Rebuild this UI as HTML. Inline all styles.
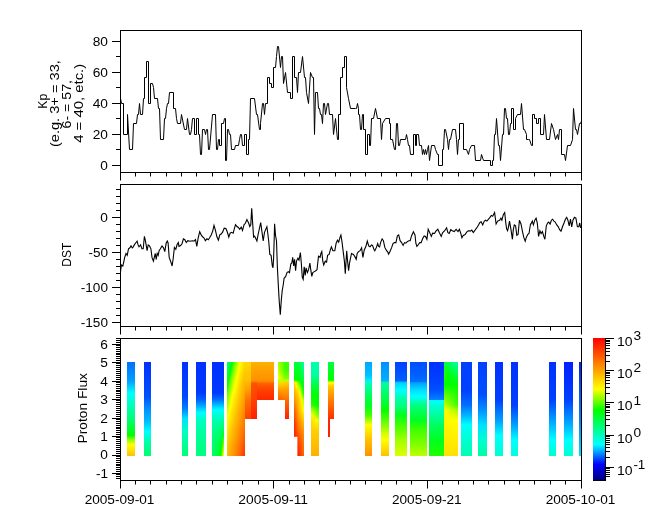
<!DOCTYPE html>
<html><head><meta charset="utf-8"><style>
html,body{margin:0;padding:0;background:#fff;}
svg{display:block;will-change:transform;}
text{font-family:"Liberation Sans",sans-serif;fill:#000;}
</style></head><body>
<svg width="665" height="523" viewBox="0 0 665 523"><defs><linearGradient id="g1" gradientUnits="userSpaceOnUse" x1="0" y1="362" x2="0" y2="456"><stop offset="0" stop-color="#0070ff"/><stop offset="0.2" stop-color="#00a0ff"/><stop offset="0.33" stop-color="#00ffff"/><stop offset="0.48" stop-color="#00ffb0"/><stop offset="0.62" stop-color="#00ff70"/><stop offset="0.78" stop-color="#00ff00"/><stop offset="0.82" stop-color="#80ff00"/><stop offset="0.88" stop-color="#ffff00"/><stop offset="0.94" stop-color="#ffe000"/><stop offset="1" stop-color="#ffc000"/></linearGradient><linearGradient id="g2" gradientUnits="userSpaceOnUse" x1="0" y1="362" x2="0" y2="456"><stop offset="0" stop-color="#0030ff"/><stop offset="0.37" stop-color="#0050ff"/><stop offset="0.5" stop-color="#0090ff"/><stop offset="0.64" stop-color="#00c0ff"/><stop offset="0.74" stop-color="#00ffff"/><stop offset="0.82" stop-color="#00ffc0"/><stop offset="0.9" stop-color="#00ff90"/><stop offset="1" stop-color="#00ff70"/></linearGradient><linearGradient id="g3" gradientUnits="userSpaceOnUse" x1="0" y1="362" x2="0" y2="456"><stop offset="0" stop-color="#0030ff"/><stop offset="0.37" stop-color="#0048ff"/><stop offset="0.5" stop-color="#0080ff"/><stop offset="0.6" stop-color="#00e0ff"/><stop offset="0.74" stop-color="#00ffc0"/><stop offset="1" stop-color="#00ff70"/></linearGradient><linearGradient id="g4" gradientUnits="userSpaceOnUse" x1="0" y1="362" x2="0" y2="456"><stop offset="0" stop-color="#0030ff"/><stop offset="0.33" stop-color="#0038ff"/><stop offset="0.4" stop-color="#0060ff"/><stop offset="0.46" stop-color="#00a0ff"/><stop offset="0.54" stop-color="#00ffff"/><stop offset="0.62" stop-color="#00ffc0"/><stop offset="0.83" stop-color="#00ff90"/><stop offset="1" stop-color="#00ff80"/></linearGradient><linearGradient id="g5" gradientUnits="userSpaceOnUse" x1="0" y1="362" x2="0" y2="456"><stop offset="0" stop-color="#0030ff"/><stop offset="0.33" stop-color="#0038ff"/><stop offset="0.4" stop-color="#0070ff"/><stop offset="0.46" stop-color="#00c0ff"/><stop offset="0.51" stop-color="#00ffff"/><stop offset="0.62" stop-color="#00ffb0"/><stop offset="0.74" stop-color="#00ff8a"/><stop offset="0.78" stop-color="#00ff80"/><stop offset="0.88" stop-color="#00ff71"/><stop offset="1" stop-color="#00ff60"/></linearGradient><linearGradient id="g6" gradientUnits="userSpaceOnUse" x1="0" y1="362" x2="0" y2="456"><stop offset="0" stop-color="#0030ff"/><stop offset="0.33" stop-color="#0038ff"/><stop offset="0.4" stop-color="#0070ff"/><stop offset="0.46" stop-color="#00c0ff"/><stop offset="0.51" stop-color="#00ffff"/><stop offset="0.62" stop-color="#00ffb0"/><stop offset="0.74" stop-color="#00ff88"/><stop offset="0.78" stop-color="#00ff7e"/><stop offset="0.88" stop-color="#00ff6d"/><stop offset="1" stop-color="#00ff5b"/></linearGradient><linearGradient id="g7" gradientUnits="userSpaceOnUse" x1="0" y1="362" x2="0" y2="456"><stop offset="0" stop-color="#0030ff"/><stop offset="0.33" stop-color="#0038ff"/><stop offset="0.4" stop-color="#0070ff"/><stop offset="0.46" stop-color="#00c0ff"/><stop offset="0.51" stop-color="#00ffff"/><stop offset="0.62" stop-color="#00ffb0"/><stop offset="0.74" stop-color="#00ff84"/><stop offset="0.78" stop-color="#00ff79"/><stop offset="0.88" stop-color="#00ff67"/><stop offset="1" stop-color="#00ff52"/></linearGradient><linearGradient id="g8" gradientUnits="userSpaceOnUse" x1="0" y1="362" x2="0" y2="456"><stop offset="0" stop-color="#0030ff"/><stop offset="0.33" stop-color="#0038ff"/><stop offset="0.4" stop-color="#0070ff"/><stop offset="0.46" stop-color="#00c0ff"/><stop offset="0.51" stop-color="#00ffff"/><stop offset="0.62" stop-color="#00ffb0"/><stop offset="0.74" stop-color="#00ff80"/><stop offset="0.78" stop-color="#00ff75"/><stop offset="0.88" stop-color="#00ff60"/><stop offset="1" stop-color="#00ff49"/></linearGradient><linearGradient id="g9" gradientUnits="userSpaceOnUse" x1="0" y1="362" x2="0" y2="456"><stop offset="0" stop-color="#0030ff"/><stop offset="0.33" stop-color="#0038ff"/><stop offset="0.4" stop-color="#0070ff"/><stop offset="0.46" stop-color="#00c0ff"/><stop offset="0.51" stop-color="#00ffff"/><stop offset="0.62" stop-color="#00ffb0"/><stop offset="0.74" stop-color="#00ff7d"/><stop offset="0.78" stop-color="#00ff70"/><stop offset="0.88" stop-color="#00ff59"/><stop offset="1" stop-color="#00ff40"/></linearGradient><linearGradient id="g10" gradientUnits="userSpaceOnUse" x1="0" y1="362" x2="0" y2="456"><stop offset="0" stop-color="#0030ff"/><stop offset="0.33" stop-color="#0038ff"/><stop offset="0.4" stop-color="#0070ff"/><stop offset="0.46" stop-color="#00c0ff"/><stop offset="0.51" stop-color="#00ffff"/><stop offset="0.62" stop-color="#00ffb0"/><stop offset="0.74" stop-color="#00ff79"/><stop offset="0.78" stop-color="#00ff6b"/><stop offset="0.88" stop-color="#00ff52"/><stop offset="1" stop-color="#00ff37"/></linearGradient><linearGradient id="g11" gradientUnits="userSpaceOnUse" x1="0" y1="362" x2="0" y2="456"><stop offset="0" stop-color="#0030ff"/><stop offset="0.33" stop-color="#0038ff"/><stop offset="0.4" stop-color="#0070ff"/><stop offset="0.46" stop-color="#00c0ff"/><stop offset="0.51" stop-color="#00ffff"/><stop offset="0.62" stop-color="#00ffb0"/><stop offset="0.74" stop-color="#00ff76"/><stop offset="0.78" stop-color="#00ff67"/><stop offset="0.88" stop-color="#00ff4c"/><stop offset="1" stop-color="#00ff2e"/></linearGradient><linearGradient id="g12" gradientUnits="userSpaceOnUse" x1="0" y1="362" x2="0" y2="456"><stop offset="0" stop-color="#0030ff"/><stop offset="0.33" stop-color="#0038ff"/><stop offset="0.4" stop-color="#0070ff"/><stop offset="0.46" stop-color="#00c0ff"/><stop offset="0.51" stop-color="#00ffff"/><stop offset="0.62" stop-color="#00ffb0"/><stop offset="0.74" stop-color="#00ff72"/><stop offset="0.78" stop-color="#00ff62"/><stop offset="0.88" stop-color="#00ff45"/><stop offset="1" stop-color="#00ff25"/></linearGradient><linearGradient id="g13" gradientUnits="userSpaceOnUse" x1="0" y1="362" x2="0" y2="456"><stop offset="0" stop-color="#0030ff"/><stop offset="0.33" stop-color="#0038ff"/><stop offset="0.4" stop-color="#0070ff"/><stop offset="0.46" stop-color="#00c0ff"/><stop offset="0.51" stop-color="#00ffff"/><stop offset="0.62" stop-color="#00ffae"/><stop offset="0.74" stop-color="#00ff69"/><stop offset="0.78" stop-color="#00ff57"/><stop offset="0.88" stop-color="#00ff2d"/><stop offset="1" stop-color="#00ff05"/></linearGradient><linearGradient id="g14" gradientUnits="userSpaceOnUse" x1="0" y1="362" x2="0" y2="456"><stop offset="0" stop-color="#0030ff"/><stop offset="0.33" stop-color="#0038ff"/><stop offset="0.4" stop-color="#0070ff"/><stop offset="0.46" stop-color="#00c0ff"/><stop offset="0.51" stop-color="#00ffff"/><stop offset="0.62" stop-color="#00ffa9"/><stop offset="0.74" stop-color="#00ff5b"/><stop offset="0.78" stop-color="#00ff44"/><stop offset="0.88" stop-color="#00ff04"/><stop offset="1" stop-color="#4fff00"/></linearGradient><linearGradient id="g15" gradientUnits="userSpaceOnUse" x1="0" y1="362" x2="0" y2="456"><stop offset="0" stop-color="#0030ff"/><stop offset="0.33" stop-color="#0038ff"/><stop offset="0.4" stop-color="#0070ff"/><stop offset="0.46" stop-color="#00c0ff"/><stop offset="0.51" stop-color="#00ffff"/><stop offset="0.62" stop-color="#00ffa5"/><stop offset="0.74" stop-color="#00ff4e"/><stop offset="0.78" stop-color="#00ff32"/><stop offset="0.88" stop-color="#3dff00"/><stop offset="1" stop-color="#a7ff00"/></linearGradient><linearGradient id="g16" gradientUnits="userSpaceOnUse" x1="0" y1="362" x2="0" y2="456"><stop offset="0" stop-color="#0030ff"/><stop offset="0.33" stop-color="#0038ff"/><stop offset="0.4" stop-color="#0070ff"/><stop offset="0.46" stop-color="#00c0ff"/><stop offset="0.51" stop-color="#00ffff"/><stop offset="0.62" stop-color="#00ffa0"/><stop offset="0.74" stop-color="#00ff40"/><stop offset="0.78" stop-color="#00ff1f"/><stop offset="0.88" stop-color="#80ff00"/><stop offset="1" stop-color="#ffff00"/></linearGradient><linearGradient id="g17" gradientUnits="userSpaceOnUse" x1="0" y1="362" x2="0" y2="456"><stop offset="0" stop-color="#00ff7c"/><stop offset="0.02" stop-color="#00ff71"/><stop offset="0.04" stop-color="#00ff66"/><stop offset="0.06" stop-color="#00ff5b"/><stop offset="0.09" stop-color="#00ff51"/><stop offset="0.11" stop-color="#00ff46"/><stop offset="0.13" stop-color="#00ff3b"/><stop offset="0.15" stop-color="#00ff30"/><stop offset="0.17" stop-color="#00ff25"/><stop offset="0.19" stop-color="#00ff19"/><stop offset="0.21" stop-color="#00ff0d"/><stop offset="0.23" stop-color="#00ff01"/><stop offset="0.26" stop-color="#12ff00"/><stop offset="0.28" stop-color="#26ff00"/><stop offset="0.3" stop-color="#3aff00"/><stop offset="0.32" stop-color="#4dff00"/><stop offset="0.34" stop-color="#61ff00"/><stop offset="0.36" stop-color="#70ff00"/><stop offset="0.38" stop-color="#7eff00"/><stop offset="0.4" stop-color="#8bff00"/><stop offset="0.43" stop-color="#99ff00"/><stop offset="0.45" stop-color="#a7ff00"/><stop offset="0.47" stop-color="#b5ff00"/><stop offset="0.49" stop-color="#c3ff00"/><stop offset="0.51" stop-color="#d0ff00"/><stop offset="0.53" stop-color="#deff00"/><stop offset="0.55" stop-color="#e8ff00"/><stop offset="0.57" stop-color="#f2ff00"/><stop offset="0.6" stop-color="#fcff00"/><stop offset="0.62" stop-color="#fffc00"/><stop offset="0.64" stop-color="#fff800"/><stop offset="0.66" stop-color="#fff400"/><stop offset="0.68" stop-color="#fff000"/><stop offset="0.7" stop-color="#ffec00"/><stop offset="0.72" stop-color="#ffe900"/><stop offset="0.74" stop-color="#ffe500"/><stop offset="0.77" stop-color="#ffe100"/><stop offset="0.79" stop-color="#ffdd00"/><stop offset="0.81" stop-color="#ffd900"/><stop offset="0.83" stop-color="#ffd500"/><stop offset="0.85" stop-color="#ffd100"/><stop offset="0.87" stop-color="#ffcd00"/><stop offset="0.89" stop-color="#ffc900"/><stop offset="0.91" stop-color="#ffc500"/><stop offset="0.94" stop-color="#ffc200"/><stop offset="0.96" stop-color="#ffbf00"/><stop offset="0.98" stop-color="#ffbc00"/><stop offset="1" stop-color="#ffb800"/></linearGradient><linearGradient id="g18" gradientUnits="userSpaceOnUse" x1="0" y1="362" x2="0" y2="456"><stop offset="0" stop-color="#00ff64"/><stop offset="0.02" stop-color="#00ff59"/><stop offset="0.04" stop-color="#00ff4f"/><stop offset="0.06" stop-color="#00ff44"/><stop offset="0.09" stop-color="#00ff39"/><stop offset="0.11" stop-color="#00ff2e"/><stop offset="0.13" stop-color="#00ff23"/><stop offset="0.15" stop-color="#00ff17"/><stop offset="0.17" stop-color="#00ff0b"/><stop offset="0.19" stop-color="#02ff00"/><stop offset="0.21" stop-color="#16ff00"/><stop offset="0.23" stop-color="#29ff00"/><stop offset="0.26" stop-color="#3dff00"/><stop offset="0.28" stop-color="#51ff00"/><stop offset="0.3" stop-color="#64ff00"/><stop offset="0.32" stop-color="#72ff00"/><stop offset="0.34" stop-color="#80ff00"/><stop offset="0.36" stop-color="#8eff00"/><stop offset="0.38" stop-color="#9cff00"/><stop offset="0.4" stop-color="#a9ff00"/><stop offset="0.43" stop-color="#b7ff00"/><stop offset="0.45" stop-color="#c5ff00"/><stop offset="0.47" stop-color="#d3ff00"/><stop offset="0.49" stop-color="#e0ff00"/><stop offset="0.51" stop-color="#eaff00"/><stop offset="0.53" stop-color="#f4ff00"/><stop offset="0.55" stop-color="#feff00"/><stop offset="0.57" stop-color="#fffc00"/><stop offset="0.6" stop-color="#fff800"/><stop offset="0.62" stop-color="#fff400"/><stop offset="0.64" stop-color="#fff000"/><stop offset="0.66" stop-color="#ffec00"/><stop offset="0.68" stop-color="#ffe800"/><stop offset="0.7" stop-color="#ffe400"/><stop offset="0.72" stop-color="#ffe000"/><stop offset="0.74" stop-color="#ffdc00"/><stop offset="0.77" stop-color="#ffd800"/><stop offset="0.79" stop-color="#ffd400"/><stop offset="0.81" stop-color="#ffd000"/><stop offset="0.83" stop-color="#ffcc00"/><stop offset="0.85" stop-color="#ffc800"/><stop offset="0.87" stop-color="#ffc500"/><stop offset="0.89" stop-color="#ffc100"/><stop offset="0.91" stop-color="#ffbe00"/><stop offset="0.94" stop-color="#ffbb00"/><stop offset="0.96" stop-color="#ffb800"/><stop offset="0.98" stop-color="#ffb500"/><stop offset="1" stop-color="#ffb200"/></linearGradient><linearGradient id="g19" gradientUnits="userSpaceOnUse" x1="0" y1="362" x2="0" y2="456"><stop offset="0" stop-color="#00ff4d"/><stop offset="0.02" stop-color="#00ff42"/><stop offset="0.04" stop-color="#00ff37"/><stop offset="0.06" stop-color="#00ff2c"/><stop offset="0.09" stop-color="#00ff20"/><stop offset="0.11" stop-color="#00ff15"/><stop offset="0.13" stop-color="#00ff09"/><stop offset="0.15" stop-color="#06ff00"/><stop offset="0.17" stop-color="#19ff00"/><stop offset="0.19" stop-color="#2dff00"/><stop offset="0.21" stop-color="#41ff00"/><stop offset="0.23" stop-color="#54ff00"/><stop offset="0.26" stop-color="#67ff00"/><stop offset="0.28" stop-color="#75ff00"/><stop offset="0.3" stop-color="#82ff00"/><stop offset="0.32" stop-color="#90ff00"/><stop offset="0.34" stop-color="#9eff00"/><stop offset="0.36" stop-color="#acff00"/><stop offset="0.38" stop-color="#baff00"/><stop offset="0.4" stop-color="#c7ff00"/><stop offset="0.43" stop-color="#d5ff00"/><stop offset="0.45" stop-color="#e2ff00"/><stop offset="0.47" stop-color="#ecff00"/><stop offset="0.49" stop-color="#f6ff00"/><stop offset="0.51" stop-color="#ffff00"/><stop offset="0.53" stop-color="#fffb00"/><stop offset="0.55" stop-color="#fff700"/><stop offset="0.57" stop-color="#fff300"/><stop offset="0.6" stop-color="#ffef00"/><stop offset="0.62" stop-color="#ffeb00"/><stop offset="0.64" stop-color="#ffe700"/><stop offset="0.66" stop-color="#ffe300"/><stop offset="0.68" stop-color="#ffdf00"/><stop offset="0.7" stop-color="#ffdb00"/><stop offset="0.72" stop-color="#ffd700"/><stop offset="0.74" stop-color="#ffd300"/><stop offset="0.77" stop-color="#ffcf00"/><stop offset="0.79" stop-color="#ffcc00"/><stop offset="0.81" stop-color="#ffc800"/><stop offset="0.83" stop-color="#ffc400"/><stop offset="0.85" stop-color="#ffc100"/><stop offset="0.87" stop-color="#ffbe00"/><stop offset="0.89" stop-color="#ffba00"/><stop offset="0.91" stop-color="#ffb700"/><stop offset="0.94" stop-color="#ffb400"/><stop offset="0.96" stop-color="#ffb100"/><stop offset="0.98" stop-color="#ffae00"/><stop offset="1" stop-color="#ffab00"/></linearGradient><linearGradient id="g20" gradientUnits="userSpaceOnUse" x1="0" y1="362" x2="0" y2="456"><stop offset="0" stop-color="#00ff35"/><stop offset="0.02" stop-color="#00ff2a"/><stop offset="0.04" stop-color="#00ff1e"/><stop offset="0.06" stop-color="#00ff12"/><stop offset="0.09" stop-color="#00ff06"/><stop offset="0.11" stop-color="#09ff00"/><stop offset="0.13" stop-color="#1dff00"/><stop offset="0.15" stop-color="#30ff00"/><stop offset="0.17" stop-color="#44ff00"/><stop offset="0.19" stop-color="#58ff00"/><stop offset="0.21" stop-color="#69ff00"/><stop offset="0.23" stop-color="#77ff00"/><stop offset="0.26" stop-color="#85ff00"/><stop offset="0.28" stop-color="#93ff00"/><stop offset="0.3" stop-color="#a0ff00"/><stop offset="0.32" stop-color="#aeff00"/><stop offset="0.34" stop-color="#bcff00"/><stop offset="0.36" stop-color="#caff00"/><stop offset="0.38" stop-color="#d8ff00"/><stop offset="0.4" stop-color="#e4ff00"/><stop offset="0.43" stop-color="#eeff00"/><stop offset="0.45" stop-color="#f7ff00"/><stop offset="0.47" stop-color="#fffe00"/><stop offset="0.49" stop-color="#fffa00"/><stop offset="0.51" stop-color="#fff600"/><stop offset="0.53" stop-color="#fff200"/><stop offset="0.55" stop-color="#ffee00"/><stop offset="0.57" stop-color="#ffea00"/><stop offset="0.6" stop-color="#ffe600"/><stop offset="0.62" stop-color="#ffe200"/><stop offset="0.64" stop-color="#ffdf00"/><stop offset="0.66" stop-color="#ffdb00"/><stop offset="0.68" stop-color="#ffd700"/><stop offset="0.7" stop-color="#ffd300"/><stop offset="0.72" stop-color="#ffcf00"/><stop offset="0.74" stop-color="#ffcb00"/><stop offset="0.77" stop-color="#ffc700"/><stop offset="0.79" stop-color="#ffc300"/><stop offset="0.81" stop-color="#ffc000"/><stop offset="0.83" stop-color="#ffbd00"/><stop offset="0.85" stop-color="#ffba00"/><stop offset="0.87" stop-color="#ffb700"/><stop offset="0.89" stop-color="#ffb400"/><stop offset="0.91" stop-color="#ffb000"/><stop offset="0.94" stop-color="#ffad00"/><stop offset="0.96" stop-color="#ffaa00"/><stop offset="0.98" stop-color="#ffa700"/><stop offset="1" stop-color="#ffa400"/></linearGradient><linearGradient id="g21" gradientUnits="userSpaceOnUse" x1="0" y1="362" x2="0" y2="456"><stop offset="0" stop-color="#00ff1c"/><stop offset="0.02" stop-color="#00ff10"/><stop offset="0.04" stop-color="#00ff04"/><stop offset="0.06" stop-color="#0dff00"/><stop offset="0.09" stop-color="#20ff00"/><stop offset="0.11" stop-color="#34ff00"/><stop offset="0.13" stop-color="#48ff00"/><stop offset="0.15" stop-color="#5bff00"/><stop offset="0.17" stop-color="#6cff00"/><stop offset="0.19" stop-color="#7aff00"/><stop offset="0.21" stop-color="#87ff00"/><stop offset="0.23" stop-color="#95ff00"/><stop offset="0.26" stop-color="#a3ff00"/><stop offset="0.28" stop-color="#b1ff00"/><stop offset="0.3" stop-color="#beff00"/><stop offset="0.32" stop-color="#ccff00"/><stop offset="0.34" stop-color="#daff00"/><stop offset="0.36" stop-color="#e5ff00"/><stop offset="0.38" stop-color="#efff00"/><stop offset="0.4" stop-color="#f9ff00"/><stop offset="0.43" stop-color="#fffd00"/><stop offset="0.45" stop-color="#fff900"/><stop offset="0.47" stop-color="#fff600"/><stop offset="0.49" stop-color="#fff200"/><stop offset="0.51" stop-color="#ffee00"/><stop offset="0.53" stop-color="#ffea00"/><stop offset="0.55" stop-color="#ffe600"/><stop offset="0.57" stop-color="#ffe200"/><stop offset="0.6" stop-color="#ffde00"/><stop offset="0.62" stop-color="#ffda00"/><stop offset="0.64" stop-color="#ffd600"/><stop offset="0.66" stop-color="#ffd200"/><stop offset="0.68" stop-color="#ffce00"/><stop offset="0.7" stop-color="#ffca00"/><stop offset="0.72" stop-color="#ffc600"/><stop offset="0.74" stop-color="#ffc300"/><stop offset="0.77" stop-color="#ffc000"/><stop offset="0.79" stop-color="#ffbd00"/><stop offset="0.81" stop-color="#ffb900"/><stop offset="0.83" stop-color="#ffb600"/><stop offset="0.85" stop-color="#ffb300"/><stop offset="0.87" stop-color="#ffb000"/><stop offset="0.89" stop-color="#ffad00"/><stop offset="0.91" stop-color="#ffaa00"/><stop offset="0.94" stop-color="#ffa600"/><stop offset="0.96" stop-color="#ffa300"/><stop offset="0.98" stop-color="#ffa000"/><stop offset="1" stop-color="#ff9d00"/></linearGradient><linearGradient id="g22" gradientUnits="userSpaceOnUse" x1="0" y1="362" x2="0" y2="456"><stop offset="0" stop-color="#00ff02"/><stop offset="0.02" stop-color="#10ff00"/><stop offset="0.04" stop-color="#24ff00"/><stop offset="0.06" stop-color="#37ff00"/><stop offset="0.09" stop-color="#4bff00"/><stop offset="0.11" stop-color="#5fff00"/><stop offset="0.13" stop-color="#6eff00"/><stop offset="0.15" stop-color="#7cff00"/><stop offset="0.17" stop-color="#8aff00"/><stop offset="0.19" stop-color="#98ff00"/><stop offset="0.21" stop-color="#a5ff00"/><stop offset="0.23" stop-color="#b3ff00"/><stop offset="0.26" stop-color="#c1ff00"/><stop offset="0.28" stop-color="#cfff00"/><stop offset="0.3" stop-color="#dcff00"/><stop offset="0.32" stop-color="#e7ff00"/><stop offset="0.34" stop-color="#f1ff00"/><stop offset="0.36" stop-color="#fbff00"/><stop offset="0.38" stop-color="#fffd00"/><stop offset="0.4" stop-color="#fff900"/><stop offset="0.43" stop-color="#fff500"/><stop offset="0.45" stop-color="#fff100"/><stop offset="0.47" stop-color="#ffed00"/><stop offset="0.49" stop-color="#ffe900"/><stop offset="0.51" stop-color="#ffe500"/><stop offset="0.53" stop-color="#ffe100"/><stop offset="0.55" stop-color="#ffdd00"/><stop offset="0.57" stop-color="#ffd900"/><stop offset="0.6" stop-color="#ffd500"/><stop offset="0.62" stop-color="#ffd100"/><stop offset="0.64" stop-color="#ffcd00"/><stop offset="0.66" stop-color="#ffc900"/><stop offset="0.68" stop-color="#ffc500"/><stop offset="0.7" stop-color="#ffc200"/><stop offset="0.72" stop-color="#ffbf00"/><stop offset="0.74" stop-color="#ffbc00"/><stop offset="0.77" stop-color="#ffb900"/><stop offset="0.79" stop-color="#ffb600"/><stop offset="0.81" stop-color="#ffb300"/><stop offset="0.83" stop-color="#ffaf00"/><stop offset="0.85" stop-color="#ffac00"/><stop offset="0.87" stop-color="#ffa900"/><stop offset="0.89" stop-color="#ffa600"/><stop offset="0.91" stop-color="#ffa300"/><stop offset="0.94" stop-color="#ffa000"/><stop offset="0.96" stop-color="#ff9c00"/><stop offset="0.98" stop-color="#ff9900"/><stop offset="1" stop-color="#ff9600"/></linearGradient><linearGradient id="g23" gradientUnits="userSpaceOnUse" x1="0" y1="362" x2="0" y2="456"><stop offset="0" stop-color="#27ff00"/><stop offset="0.02" stop-color="#3bff00"/><stop offset="0.04" stop-color="#4fff00"/><stop offset="0.06" stop-color="#62ff00"/><stop offset="0.09" stop-color="#71ff00"/><stop offset="0.11" stop-color="#7eff00"/><stop offset="0.13" stop-color="#8cff00"/><stop offset="0.15" stop-color="#9aff00"/><stop offset="0.17" stop-color="#a8ff00"/><stop offset="0.19" stop-color="#b6ff00"/><stop offset="0.21" stop-color="#c3ff00"/><stop offset="0.23" stop-color="#d1ff00"/><stop offset="0.26" stop-color="#dfff00"/><stop offset="0.28" stop-color="#e9ff00"/><stop offset="0.3" stop-color="#f3ff00"/><stop offset="0.32" stop-color="#fdff00"/><stop offset="0.34" stop-color="#fffc00"/><stop offset="0.36" stop-color="#fff800"/><stop offset="0.38" stop-color="#fff400"/><stop offset="0.4" stop-color="#fff000"/><stop offset="0.43" stop-color="#ffec00"/><stop offset="0.45" stop-color="#ffe800"/><stop offset="0.47" stop-color="#ffe400"/><stop offset="0.49" stop-color="#ffe000"/><stop offset="0.51" stop-color="#ffdc00"/><stop offset="0.53" stop-color="#ffd900"/><stop offset="0.55" stop-color="#ffd500"/><stop offset="0.57" stop-color="#ffd100"/><stop offset="0.6" stop-color="#ffcd00"/><stop offset="0.62" stop-color="#ffc900"/><stop offset="0.64" stop-color="#ffc500"/><stop offset="0.66" stop-color="#ffc200"/><stop offset="0.68" stop-color="#ffbf00"/><stop offset="0.7" stop-color="#ffbb00"/><stop offset="0.72" stop-color="#ffb800"/><stop offset="0.74" stop-color="#ffb500"/><stop offset="0.77" stop-color="#ffb200"/><stop offset="0.79" stop-color="#ffaf00"/><stop offset="0.81" stop-color="#ffac00"/><stop offset="0.83" stop-color="#ffa800"/><stop offset="0.85" stop-color="#ffa500"/><stop offset="0.87" stop-color="#ffa200"/><stop offset="0.89" stop-color="#ff9f00"/><stop offset="0.91" stop-color="#ff9c00"/><stop offset="0.94" stop-color="#ff9900"/><stop offset="0.96" stop-color="#ff9600"/><stop offset="0.98" stop-color="#ff9200"/><stop offset="1" stop-color="#ff8f00"/></linearGradient><linearGradient id="g24" gradientUnits="userSpaceOnUse" x1="0" y1="362" x2="0" y2="456"><stop offset="0" stop-color="#52ff00"/><stop offset="0.02" stop-color="#65ff00"/><stop offset="0.04" stop-color="#73ff00"/><stop offset="0.06" stop-color="#81ff00"/><stop offset="0.09" stop-color="#8fff00"/><stop offset="0.11" stop-color="#9cff00"/><stop offset="0.13" stop-color="#aaff00"/><stop offset="0.15" stop-color="#b8ff00"/><stop offset="0.17" stop-color="#c6ff00"/><stop offset="0.19" stop-color="#d4ff00"/><stop offset="0.21" stop-color="#e1ff00"/><stop offset="0.23" stop-color="#ebff00"/><stop offset="0.26" stop-color="#f4ff00"/><stop offset="0.28" stop-color="#feff00"/><stop offset="0.3" stop-color="#fffb00"/><stop offset="0.32" stop-color="#fff700"/><stop offset="0.34" stop-color="#fff300"/><stop offset="0.36" stop-color="#ffef00"/><stop offset="0.38" stop-color="#ffec00"/><stop offset="0.4" stop-color="#ffe800"/><stop offset="0.43" stop-color="#ffe400"/><stop offset="0.45" stop-color="#ffe000"/><stop offset="0.47" stop-color="#ffdc00"/><stop offset="0.49" stop-color="#ffd800"/><stop offset="0.51" stop-color="#ffd400"/><stop offset="0.53" stop-color="#ffd000"/><stop offset="0.55" stop-color="#ffcc00"/><stop offset="0.57" stop-color="#ffc800"/><stop offset="0.6" stop-color="#ffc400"/><stop offset="0.62" stop-color="#ffc100"/><stop offset="0.64" stop-color="#ffbe00"/><stop offset="0.66" stop-color="#ffbb00"/><stop offset="0.68" stop-color="#ffb800"/><stop offset="0.7" stop-color="#ffb500"/><stop offset="0.72" stop-color="#ffb100"/><stop offset="0.74" stop-color="#ffae00"/><stop offset="0.77" stop-color="#ffab00"/><stop offset="0.79" stop-color="#ffa800"/><stop offset="0.81" stop-color="#ffa500"/><stop offset="0.83" stop-color="#ffa200"/><stop offset="0.85" stop-color="#ff9e00"/><stop offset="0.87" stop-color="#ff9b00"/><stop offset="0.89" stop-color="#ff9800"/><stop offset="0.91" stop-color="#ff9500"/><stop offset="0.94" stop-color="#ff9200"/><stop offset="0.96" stop-color="#ff8f00"/><stop offset="0.98" stop-color="#ff8c00"/><stop offset="1" stop-color="#ff8800"/></linearGradient><linearGradient id="g25" gradientUnits="userSpaceOnUse" x1="0" y1="362" x2="0" y2="456"><stop offset="0" stop-color="#75ff00"/><stop offset="0.02" stop-color="#83ff00"/><stop offset="0.04" stop-color="#91ff00"/><stop offset="0.06" stop-color="#9fff00"/><stop offset="0.09" stop-color="#adff00"/><stop offset="0.11" stop-color="#baff00"/><stop offset="0.13" stop-color="#c8ff00"/><stop offset="0.15" stop-color="#d6ff00"/><stop offset="0.17" stop-color="#e3ff00"/><stop offset="0.19" stop-color="#ecff00"/><stop offset="0.21" stop-color="#f6ff00"/><stop offset="0.23" stop-color="#ffff00"/><stop offset="0.26" stop-color="#fffb00"/><stop offset="0.28" stop-color="#fff700"/><stop offset="0.3" stop-color="#fff300"/><stop offset="0.32" stop-color="#ffef00"/><stop offset="0.34" stop-color="#ffeb00"/><stop offset="0.36" stop-color="#ffe700"/><stop offset="0.38" stop-color="#ffe300"/><stop offset="0.4" stop-color="#ffdf00"/><stop offset="0.43" stop-color="#ffdb00"/><stop offset="0.45" stop-color="#ffd700"/><stop offset="0.47" stop-color="#ffd300"/><stop offset="0.49" stop-color="#ffcf00"/><stop offset="0.51" stop-color="#ffcb00"/><stop offset="0.53" stop-color="#ffc700"/><stop offset="0.55" stop-color="#ffc400"/><stop offset="0.57" stop-color="#ffc100"/><stop offset="0.6" stop-color="#ffbd00"/><stop offset="0.62" stop-color="#ffba00"/><stop offset="0.64" stop-color="#ffb700"/><stop offset="0.66" stop-color="#ffb400"/><stop offset="0.68" stop-color="#ffb100"/><stop offset="0.7" stop-color="#ffae00"/><stop offset="0.72" stop-color="#ffab00"/><stop offset="0.74" stop-color="#ffa700"/><stop offset="0.77" stop-color="#ffa400"/><stop offset="0.79" stop-color="#ffa100"/><stop offset="0.81" stop-color="#ff9e00"/><stop offset="0.83" stop-color="#ff9b00"/><stop offset="0.85" stop-color="#ff9800"/><stop offset="0.87" stop-color="#ff9400"/><stop offset="0.89" stop-color="#ff9100"/><stop offset="0.91" stop-color="#ff8e00"/><stop offset="0.94" stop-color="#ff8b00"/><stop offset="0.96" stop-color="#ff8800"/><stop offset="0.98" stop-color="#ff8500"/><stop offset="1" stop-color="#ff8100"/></linearGradient><linearGradient id="g26" gradientUnits="userSpaceOnUse" x1="0" y1="362" x2="0" y2="456"><stop offset="0" stop-color="#93ff00"/><stop offset="0.02" stop-color="#a1ff00"/><stop offset="0.04" stop-color="#afff00"/><stop offset="0.06" stop-color="#bdff00"/><stop offset="0.09" stop-color="#cbff00"/><stop offset="0.11" stop-color="#d8ff00"/><stop offset="0.13" stop-color="#e4ff00"/><stop offset="0.15" stop-color="#eeff00"/><stop offset="0.17" stop-color="#f8ff00"/><stop offset="0.19" stop-color="#fffe00"/><stop offset="0.21" stop-color="#fffa00"/><stop offset="0.23" stop-color="#fff600"/><stop offset="0.26" stop-color="#fff200"/><stop offset="0.28" stop-color="#ffee00"/><stop offset="0.3" stop-color="#ffea00"/><stop offset="0.32" stop-color="#ffe600"/><stop offset="0.34" stop-color="#ffe200"/><stop offset="0.36" stop-color="#ffde00"/><stop offset="0.38" stop-color="#ffda00"/><stop offset="0.4" stop-color="#ffd600"/><stop offset="0.43" stop-color="#ffd200"/><stop offset="0.45" stop-color="#ffcf00"/><stop offset="0.47" stop-color="#ffcb00"/><stop offset="0.49" stop-color="#ffc700"/><stop offset="0.51" stop-color="#ffc300"/><stop offset="0.53" stop-color="#ffc000"/><stop offset="0.55" stop-color="#ffbd00"/><stop offset="0.57" stop-color="#ffba00"/><stop offset="0.6" stop-color="#ffb700"/><stop offset="0.62" stop-color="#ffb300"/><stop offset="0.64" stop-color="#ffb000"/><stop offset="0.66" stop-color="#ffad00"/><stop offset="0.68" stop-color="#ffaa00"/><stop offset="0.7" stop-color="#ffa700"/><stop offset="0.72" stop-color="#ffa400"/><stop offset="0.74" stop-color="#ffa000"/><stop offset="0.77" stop-color="#ff9d00"/><stop offset="0.79" stop-color="#ff9a00"/><stop offset="0.81" stop-color="#ff9700"/><stop offset="0.83" stop-color="#ff9400"/><stop offset="0.85" stop-color="#ff9100"/><stop offset="0.87" stop-color="#ff8e00"/><stop offset="0.89" stop-color="#ff8a00"/><stop offset="0.91" stop-color="#ff8700"/><stop offset="0.94" stop-color="#ff8400"/><stop offset="0.96" stop-color="#ff8100"/><stop offset="0.98" stop-color="#ff7e00"/><stop offset="1" stop-color="#ff7b00"/></linearGradient><linearGradient id="g27" gradientUnits="userSpaceOnUse" x1="0" y1="362" x2="0" y2="456"><stop offset="0" stop-color="#b2ff00"/><stop offset="0.02" stop-color="#bfff00"/><stop offset="0.04" stop-color="#cdff00"/><stop offset="0.06" stop-color="#dbff00"/><stop offset="0.09" stop-color="#e6ff00"/><stop offset="0.11" stop-color="#f0ff00"/><stop offset="0.13" stop-color="#faff00"/><stop offset="0.15" stop-color="#fffd00"/><stop offset="0.17" stop-color="#fff900"/><stop offset="0.19" stop-color="#fff500"/><stop offset="0.21" stop-color="#fff100"/><stop offset="0.23" stop-color="#ffed00"/><stop offset="0.26" stop-color="#ffe900"/><stop offset="0.28" stop-color="#ffe600"/><stop offset="0.3" stop-color="#ffe200"/><stop offset="0.32" stop-color="#ffde00"/><stop offset="0.34" stop-color="#ffda00"/><stop offset="0.36" stop-color="#ffd600"/><stop offset="0.38" stop-color="#ffd200"/><stop offset="0.4" stop-color="#ffce00"/><stop offset="0.43" stop-color="#ffca00"/><stop offset="0.45" stop-color="#ffc600"/><stop offset="0.47" stop-color="#ffc300"/><stop offset="0.49" stop-color="#ffc000"/><stop offset="0.51" stop-color="#ffbc00"/><stop offset="0.53" stop-color="#ffb900"/><stop offset="0.55" stop-color="#ffb600"/><stop offset="0.57" stop-color="#ffb300"/><stop offset="0.6" stop-color="#ffb000"/><stop offset="0.62" stop-color="#ffad00"/><stop offset="0.64" stop-color="#ffa900"/><stop offset="0.66" stop-color="#ffa600"/><stop offset="0.68" stop-color="#ffa300"/><stop offset="0.7" stop-color="#ffa000"/><stop offset="0.72" stop-color="#ff9d00"/><stop offset="0.74" stop-color="#ff9a00"/><stop offset="0.77" stop-color="#ff9600"/><stop offset="0.79" stop-color="#ff9300"/><stop offset="0.81" stop-color="#ff9000"/><stop offset="0.83" stop-color="#ff8d00"/><stop offset="0.85" stop-color="#ff8a00"/><stop offset="0.87" stop-color="#ff8700"/><stop offset="0.89" stop-color="#ff8400"/><stop offset="0.91" stop-color="#ff8000"/><stop offset="0.94" stop-color="#ff7d00"/><stop offset="0.96" stop-color="#ff7a00"/><stop offset="0.98" stop-color="#ff7700"/><stop offset="1" stop-color="#ff7400"/></linearGradient><linearGradient id="g28" gradientUnits="userSpaceOnUse" x1="0" y1="362" x2="0" y2="456"><stop offset="0" stop-color="#d0ff00"/><stop offset="0.02" stop-color="#ddff00"/><stop offset="0.04" stop-color="#e8ff00"/><stop offset="0.06" stop-color="#f2ff00"/><stop offset="0.09" stop-color="#fbff00"/><stop offset="0.11" stop-color="#fffc00"/><stop offset="0.13" stop-color="#fff900"/><stop offset="0.15" stop-color="#fff500"/><stop offset="0.17" stop-color="#fff100"/><stop offset="0.19" stop-color="#ffed00"/><stop offset="0.21" stop-color="#ffe900"/><stop offset="0.23" stop-color="#ffe500"/><stop offset="0.26" stop-color="#ffe100"/><stop offset="0.28" stop-color="#ffdd00"/><stop offset="0.3" stop-color="#ffd900"/><stop offset="0.32" stop-color="#ffd500"/><stop offset="0.34" stop-color="#ffd100"/><stop offset="0.36" stop-color="#ffcd00"/><stop offset="0.38" stop-color="#ffc900"/><stop offset="0.4" stop-color="#ffc500"/><stop offset="0.43" stop-color="#ffc200"/><stop offset="0.45" stop-color="#ffbf00"/><stop offset="0.47" stop-color="#ffbc00"/><stop offset="0.49" stop-color="#ffb900"/><stop offset="0.51" stop-color="#ffb500"/><stop offset="0.53" stop-color="#ffb200"/><stop offset="0.55" stop-color="#ffaf00"/><stop offset="0.57" stop-color="#ffac00"/><stop offset="0.6" stop-color="#ffa900"/><stop offset="0.62" stop-color="#ffa600"/><stop offset="0.64" stop-color="#ffa300"/><stop offset="0.66" stop-color="#ff9f00"/><stop offset="0.68" stop-color="#ff9c00"/><stop offset="0.7" stop-color="#ff9900"/><stop offset="0.72" stop-color="#ff9600"/><stop offset="0.74" stop-color="#ff9300"/><stop offset="0.77" stop-color="#ff9000"/><stop offset="0.79" stop-color="#ff8c00"/><stop offset="0.81" stop-color="#ff8900"/><stop offset="0.83" stop-color="#ff8600"/><stop offset="0.85" stop-color="#ff8300"/><stop offset="0.87" stop-color="#ff8000"/><stop offset="0.89" stop-color="#ff7d00"/><stop offset="0.91" stop-color="#ff7a00"/><stop offset="0.94" stop-color="#ff7600"/><stop offset="0.96" stop-color="#ff7300"/><stop offset="0.98" stop-color="#ff7000"/><stop offset="1" stop-color="#ff6c00"/></linearGradient><linearGradient id="g29" gradientUnits="userSpaceOnUse" x1="0" y1="362" x2="0" y2="456"><stop offset="0" stop-color="#e9ff00"/><stop offset="0.02" stop-color="#f3ff00"/><stop offset="0.04" stop-color="#fdff00"/><stop offset="0.06" stop-color="#fffc00"/><stop offset="0.09" stop-color="#fff800"/><stop offset="0.11" stop-color="#fff400"/><stop offset="0.13" stop-color="#fff000"/><stop offset="0.15" stop-color="#ffec00"/><stop offset="0.17" stop-color="#ffe800"/><stop offset="0.19" stop-color="#ffe400"/><stop offset="0.21" stop-color="#ffe000"/><stop offset="0.23" stop-color="#ffdc00"/><stop offset="0.26" stop-color="#ffd800"/><stop offset="0.28" stop-color="#ffd400"/><stop offset="0.3" stop-color="#ffd000"/><stop offset="0.32" stop-color="#ffcc00"/><stop offset="0.34" stop-color="#ffc900"/><stop offset="0.36" stop-color="#ffc500"/><stop offset="0.38" stop-color="#ffc200"/><stop offset="0.4" stop-color="#ffbe00"/><stop offset="0.43" stop-color="#ffbb00"/><stop offset="0.45" stop-color="#ffb800"/><stop offset="0.47" stop-color="#ffb500"/><stop offset="0.49" stop-color="#ffb200"/><stop offset="0.51" stop-color="#ffaf00"/><stop offset="0.53" stop-color="#ffab00"/><stop offset="0.55" stop-color="#ffa800"/><stop offset="0.57" stop-color="#ffa500"/><stop offset="0.6" stop-color="#ffa200"/><stop offset="0.62" stop-color="#ff9f00"/><stop offset="0.64" stop-color="#ff9c00"/><stop offset="0.66" stop-color="#ff9900"/><stop offset="0.68" stop-color="#ff9500"/><stop offset="0.7" stop-color="#ff9200"/><stop offset="0.72" stop-color="#ff8f00"/><stop offset="0.74" stop-color="#ff8c00"/><stop offset="0.77" stop-color="#ff8900"/><stop offset="0.79" stop-color="#ff8600"/><stop offset="0.81" stop-color="#ff8200"/><stop offset="0.83" stop-color="#ff7f00"/><stop offset="0.85" stop-color="#ff7c00"/><stop offset="0.87" stop-color="#ff7900"/><stop offset="0.89" stop-color="#ff7600"/><stop offset="0.91" stop-color="#ff7300"/><stop offset="0.94" stop-color="#ff6f00"/><stop offset="0.96" stop-color="#ff6b00"/><stop offset="0.98" stop-color="#ff6700"/><stop offset="1" stop-color="#ff6200"/></linearGradient><linearGradient id="g30" gradientUnits="userSpaceOnUse" x1="0" y1="362" x2="0" y2="456"><stop offset="0" stop-color="#ffff00"/><stop offset="0.02" stop-color="#fffb00"/><stop offset="0.04" stop-color="#fff700"/><stop offset="0.06" stop-color="#fff300"/><stop offset="0.09" stop-color="#ffef00"/><stop offset="0.11" stop-color="#ffeb00"/><stop offset="0.13" stop-color="#ffe700"/><stop offset="0.15" stop-color="#ffe300"/><stop offset="0.17" stop-color="#ffdf00"/><stop offset="0.19" stop-color="#ffdc00"/><stop offset="0.21" stop-color="#ffd800"/><stop offset="0.23" stop-color="#ffd400"/><stop offset="0.26" stop-color="#ffd000"/><stop offset="0.28" stop-color="#ffcc00"/><stop offset="0.3" stop-color="#ffc800"/><stop offset="0.32" stop-color="#ffc400"/><stop offset="0.34" stop-color="#ffc100"/><stop offset="0.36" stop-color="#ffbe00"/><stop offset="0.38" stop-color="#ffbb00"/><stop offset="0.4" stop-color="#ffb800"/><stop offset="0.43" stop-color="#ffb400"/><stop offset="0.45" stop-color="#ffb100"/><stop offset="0.47" stop-color="#ffae00"/><stop offset="0.49" stop-color="#ffab00"/><stop offset="0.51" stop-color="#ffa800"/><stop offset="0.53" stop-color="#ffa500"/><stop offset="0.55" stop-color="#ffa100"/><stop offset="0.57" stop-color="#ff9e00"/><stop offset="0.6" stop-color="#ff9b00"/><stop offset="0.62" stop-color="#ff9800"/><stop offset="0.64" stop-color="#ff9500"/><stop offset="0.66" stop-color="#ff9200"/><stop offset="0.68" stop-color="#ff8e00"/><stop offset="0.7" stop-color="#ff8b00"/><stop offset="0.72" stop-color="#ff8800"/><stop offset="0.74" stop-color="#ff8500"/><stop offset="0.77" stop-color="#ff8200"/><stop offset="0.79" stop-color="#ff7f00"/><stop offset="0.81" stop-color="#ff7c00"/><stop offset="0.83" stop-color="#ff7800"/><stop offset="0.85" stop-color="#ff7500"/><stop offset="0.87" stop-color="#ff7200"/><stop offset="0.89" stop-color="#ff6e00"/><stop offset="0.91" stop-color="#ff6a00"/><stop offset="0.94" stop-color="#ff6600"/><stop offset="0.96" stop-color="#ff6200"/><stop offset="0.98" stop-color="#ff5e00"/><stop offset="1" stop-color="#ff5900"/></linearGradient><linearGradient id="g31" gradientUnits="userSpaceOnUse" x1="0" y1="362" x2="0" y2="456"><stop offset="0" stop-color="#fff600"/><stop offset="0.02" stop-color="#fff300"/><stop offset="0.04" stop-color="#ffef00"/><stop offset="0.06" stop-color="#ffeb00"/><stop offset="0.09" stop-color="#ffe700"/><stop offset="0.11" stop-color="#ffe300"/><stop offset="0.13" stop-color="#ffdf00"/><stop offset="0.15" stop-color="#ffdb00"/><stop offset="0.17" stop-color="#ffd700"/><stop offset="0.19" stop-color="#ffd300"/><stop offset="0.21" stop-color="#ffcf00"/><stop offset="0.23" stop-color="#ffcb00"/><stop offset="0.26" stop-color="#ffc700"/><stop offset="0.28" stop-color="#ffc400"/><stop offset="0.3" stop-color="#ffc000"/><stop offset="0.32" stop-color="#ffbd00"/><stop offset="0.34" stop-color="#ffba00"/><stop offset="0.36" stop-color="#ffb700"/><stop offset="0.38" stop-color="#ffb400"/><stop offset="0.4" stop-color="#ffb100"/><stop offset="0.43" stop-color="#ffad00"/><stop offset="0.45" stop-color="#ffaa00"/><stop offset="0.47" stop-color="#ffa700"/><stop offset="0.49" stop-color="#ffa400"/><stop offset="0.51" stop-color="#ffa100"/><stop offset="0.53" stop-color="#ff9e00"/><stop offset="0.55" stop-color="#ff9b00"/><stop offset="0.57" stop-color="#ff9700"/><stop offset="0.6" stop-color="#ff9400"/><stop offset="0.62" stop-color="#ff9100"/><stop offset="0.64" stop-color="#ff8e00"/><stop offset="0.66" stop-color="#ff8b00"/><stop offset="0.68" stop-color="#ff8800"/><stop offset="0.7" stop-color="#ff8400"/><stop offset="0.72" stop-color="#ff8100"/><stop offset="0.74" stop-color="#ff7e00"/><stop offset="0.77" stop-color="#ff7b00"/><stop offset="0.79" stop-color="#ff7800"/><stop offset="0.81" stop-color="#ff7500"/><stop offset="0.83" stop-color="#ff7200"/><stop offset="0.85" stop-color="#ff6e00"/><stop offset="0.87" stop-color="#ff6900"/><stop offset="0.89" stop-color="#ff6500"/><stop offset="0.91" stop-color="#ff6100"/><stop offset="0.94" stop-color="#ff5d00"/><stop offset="0.96" stop-color="#ff5900"/><stop offset="0.98" stop-color="#ff5400"/><stop offset="1" stop-color="#ff5000"/></linearGradient><linearGradient id="g32" gradientUnits="userSpaceOnUse" x1="0" y1="362" x2="0" y2="456"><stop offset="0" stop-color="#ffee00"/><stop offset="0.02" stop-color="#ffea00"/><stop offset="0.04" stop-color="#ffe600"/><stop offset="0.06" stop-color="#ffe200"/><stop offset="0.09" stop-color="#ffde00"/><stop offset="0.11" stop-color="#ffda00"/><stop offset="0.13" stop-color="#ffd600"/><stop offset="0.15" stop-color="#ffd200"/><stop offset="0.17" stop-color="#ffce00"/><stop offset="0.19" stop-color="#ffca00"/><stop offset="0.21" stop-color="#ffc600"/><stop offset="0.23" stop-color="#ffc300"/><stop offset="0.26" stop-color="#ffc000"/><stop offset="0.28" stop-color="#ffbd00"/><stop offset="0.3" stop-color="#ffba00"/><stop offset="0.32" stop-color="#ffb600"/><stop offset="0.34" stop-color="#ffb300"/><stop offset="0.36" stop-color="#ffb000"/><stop offset="0.38" stop-color="#ffad00"/><stop offset="0.4" stop-color="#ffaa00"/><stop offset="0.43" stop-color="#ffa700"/><stop offset="0.45" stop-color="#ffa300"/><stop offset="0.47" stop-color="#ffa000"/><stop offset="0.49" stop-color="#ff9d00"/><stop offset="0.51" stop-color="#ff9a00"/><stop offset="0.53" stop-color="#ff9700"/><stop offset="0.55" stop-color="#ff9400"/><stop offset="0.57" stop-color="#ff9100"/><stop offset="0.6" stop-color="#ff8d00"/><stop offset="0.62" stop-color="#ff8a00"/><stop offset="0.64" stop-color="#ff8700"/><stop offset="0.66" stop-color="#ff8400"/><stop offset="0.68" stop-color="#ff8100"/><stop offset="0.7" stop-color="#ff7e00"/><stop offset="0.72" stop-color="#ff7a00"/><stop offset="0.74" stop-color="#ff7700"/><stop offset="0.77" stop-color="#ff7400"/><stop offset="0.79" stop-color="#ff7100"/><stop offset="0.81" stop-color="#ff6d00"/><stop offset="0.83" stop-color="#ff6900"/><stop offset="0.85" stop-color="#ff6400"/><stop offset="0.87" stop-color="#ff6000"/><stop offset="0.89" stop-color="#ff5c00"/><stop offset="0.91" stop-color="#ff5800"/><stop offset="0.94" stop-color="#ff5400"/><stop offset="0.96" stop-color="#ff4f00"/><stop offset="0.98" stop-color="#ff4b00"/><stop offset="1" stop-color="#ff4700"/></linearGradient><linearGradient id="g33" gradientUnits="userSpaceOnUse" x1="0" y1="362" x2="0" y2="456"><stop offset="0" stop-color="#ffe500"/><stop offset="0.02" stop-color="#ffe100"/><stop offset="0.04" stop-color="#ffdd00"/><stop offset="0.06" stop-color="#ffd900"/><stop offset="0.09" stop-color="#ffd600"/><stop offset="0.11" stop-color="#ffd200"/><stop offset="0.13" stop-color="#ffce00"/><stop offset="0.15" stop-color="#ffca00"/><stop offset="0.17" stop-color="#ffc600"/><stop offset="0.19" stop-color="#ffc200"/><stop offset="0.21" stop-color="#ffbf00"/><stop offset="0.23" stop-color="#ffbc00"/><stop offset="0.26" stop-color="#ffb900"/><stop offset="0.28" stop-color="#ffb600"/><stop offset="0.3" stop-color="#ffb300"/><stop offset="0.32" stop-color="#ffb000"/><stop offset="0.34" stop-color="#ffac00"/><stop offset="0.36" stop-color="#ffa900"/><stop offset="0.38" stop-color="#ffa600"/><stop offset="0.4" stop-color="#ffa300"/><stop offset="0.43" stop-color="#ffa000"/><stop offset="0.45" stop-color="#ff9d00"/><stop offset="0.47" stop-color="#ff9900"/><stop offset="0.49" stop-color="#ff9600"/><stop offset="0.51" stop-color="#ff9300"/><stop offset="0.53" stop-color="#ff9000"/><stop offset="0.55" stop-color="#ff8d00"/><stop offset="0.57" stop-color="#ff8a00"/><stop offset="0.6" stop-color="#ff8700"/><stop offset="0.62" stop-color="#ff8300"/><stop offset="0.64" stop-color="#ff8000"/><stop offset="0.66" stop-color="#ff7d00"/><stop offset="0.68" stop-color="#ff7a00"/><stop offset="0.7" stop-color="#ff7700"/><stop offset="0.72" stop-color="#ff7400"/><stop offset="0.74" stop-color="#ff7000"/><stop offset="0.77" stop-color="#ff6c00"/><stop offset="0.79" stop-color="#ff6800"/><stop offset="0.81" stop-color="#ff6400"/><stop offset="0.83" stop-color="#ff5f00"/><stop offset="0.85" stop-color="#ff5b00"/><stop offset="0.87" stop-color="#ff5700"/><stop offset="0.89" stop-color="#ff5300"/><stop offset="0.91" stop-color="#ff4f00"/><stop offset="0.94" stop-color="#ff4a00"/><stop offset="0.96" stop-color="#ff4600"/><stop offset="0.98" stop-color="#ff4200"/><stop offset="1" stop-color="#ff3e00"/></linearGradient><linearGradient id="g34" gradientUnits="userSpaceOnUse" x1="0" y1="362" x2="0" y2="456"><stop offset="0" stop-color="#ffdd00"/><stop offset="0.02" stop-color="#ffd900"/><stop offset="0.04" stop-color="#ffd500"/><stop offset="0.06" stop-color="#ffd100"/><stop offset="0.09" stop-color="#ffcd00"/><stop offset="0.11" stop-color="#ffc900"/><stop offset="0.13" stop-color="#ffc500"/><stop offset="0.15" stop-color="#ffc200"/><stop offset="0.17" stop-color="#ffbf00"/><stop offset="0.19" stop-color="#ffbc00"/><stop offset="0.21" stop-color="#ffb800"/><stop offset="0.23" stop-color="#ffb500"/><stop offset="0.26" stop-color="#ffb200"/><stop offset="0.28" stop-color="#ffaf00"/><stop offset="0.3" stop-color="#ffac00"/><stop offset="0.32" stop-color="#ffa900"/><stop offset="0.34" stop-color="#ffa600"/><stop offset="0.36" stop-color="#ffa200"/><stop offset="0.38" stop-color="#ff9f00"/><stop offset="0.4" stop-color="#ff9c00"/><stop offset="0.43" stop-color="#ff9900"/><stop offset="0.45" stop-color="#ff9600"/><stop offset="0.47" stop-color="#ff9300"/><stop offset="0.49" stop-color="#ff8f00"/><stop offset="0.51" stop-color="#ff8c00"/><stop offset="0.53" stop-color="#ff8900"/><stop offset="0.55" stop-color="#ff8600"/><stop offset="0.57" stop-color="#ff8300"/><stop offset="0.6" stop-color="#ff8000"/><stop offset="0.62" stop-color="#ff7c00"/><stop offset="0.64" stop-color="#ff7900"/><stop offset="0.66" stop-color="#ff7600"/><stop offset="0.68" stop-color="#ff7300"/><stop offset="0.7" stop-color="#ff7000"/><stop offset="0.72" stop-color="#ff6b00"/><stop offset="0.74" stop-color="#ff6700"/><stop offset="0.77" stop-color="#ff6300"/><stop offset="0.79" stop-color="#ff5f00"/><stop offset="0.81" stop-color="#ff5b00"/><stop offset="0.83" stop-color="#ff5600"/><stop offset="0.85" stop-color="#ff5200"/><stop offset="0.87" stop-color="#ff4e00"/><stop offset="0.89" stop-color="#ff4a00"/><stop offset="0.91" stop-color="#ff4600"/><stop offset="0.94" stop-color="#ff4100"/><stop offset="0.96" stop-color="#ff3d00"/><stop offset="0.98" stop-color="#ff3900"/><stop offset="1" stop-color="#ff3800"/></linearGradient><linearGradient id="g35" gradientUnits="userSpaceOnUse" x1="0" y1="362" x2="0" y2="418.8"><stop offset="0" stop-color="#ffd800"/><stop offset="0.32" stop-color="#ffc000"/><stop offset="0.49" stop-color="#ffa000"/><stop offset="0.67" stop-color="#ff7000"/><stop offset="1" stop-color="#ff4000"/></linearGradient><linearGradient id="g36" gradientUnits="userSpaceOnUse" x1="0" y1="362" x2="0" y2="418.8"><stop offset="0" stop-color="#ffb000"/><stop offset="0.33" stop-color="#ff9000"/><stop offset="0.38" stop-color="#ff5000"/><stop offset="0.67" stop-color="#ff4000"/><stop offset="1" stop-color="#ff2000"/></linearGradient><linearGradient id="g37" gradientUnits="userSpaceOnUse" x1="0" y1="362" x2="0" y2="399.6"><stop offset="0" stop-color="#ffb000"/><stop offset="0.48" stop-color="#ff9000"/><stop offset="0.52" stop-color="#ff8800"/><stop offset="0.57" stop-color="#ff6000"/><stop offset="0.74" stop-color="#ff4000"/><stop offset="1" stop-color="#ff2800"/></linearGradient><linearGradient id="g38" gradientUnits="userSpaceOnUse" x1="0" y1="362" x2="0" y2="399.6"><stop offset="0" stop-color="#a0ff00"/><stop offset="0.21" stop-color="#c0ff00"/><stop offset="0.43" stop-color="#ffff00"/><stop offset="0.51" stop-color="#c0ff00"/><stop offset="0.55" stop-color="#ffe000"/><stop offset="0.74" stop-color="#ffa000"/><stop offset="1" stop-color="#ff6000"/></linearGradient><linearGradient id="g39" gradientUnits="userSpaceOnUse" x1="0" y1="362" x2="0" y2="399.6"><stop offset="0" stop-color="#91ff00"/><stop offset="0.21" stop-color="#acff00"/><stop offset="0.43" stop-color="#ecff00"/><stop offset="0.51" stop-color="#c0ff00"/><stop offset="0.55" stop-color="#ffde00"/><stop offset="0.74" stop-color="#ffa000"/><stop offset="1" stop-color="#ff6300"/></linearGradient><linearGradient id="g40" gradientUnits="userSpaceOnUse" x1="0" y1="362" x2="0" y2="399.6"><stop offset="0" stop-color="#83ff00"/><stop offset="0.21" stop-color="#98ff00"/><stop offset="0.43" stop-color="#d8ff00"/><stop offset="0.51" stop-color="#c0ff00"/><stop offset="0.55" stop-color="#ffdb00"/><stop offset="0.74" stop-color="#ffa000"/><stop offset="1" stop-color="#ff6500"/></linearGradient><linearGradient id="g41" gradientUnits="userSpaceOnUse" x1="0" y1="362" x2="0" y2="399.6"><stop offset="0" stop-color="#74ff00"/><stop offset="0.21" stop-color="#85ff00"/><stop offset="0.43" stop-color="#c5ff00"/><stop offset="0.51" stop-color="#c0ff00"/><stop offset="0.55" stop-color="#ffd900"/><stop offset="0.74" stop-color="#ffa000"/><stop offset="1" stop-color="#ff6700"/></linearGradient><linearGradient id="g42" gradientUnits="userSpaceOnUse" x1="0" y1="362" x2="0" y2="399.6"><stop offset="0" stop-color="#65ff00"/><stop offset="0.21" stop-color="#71ff00"/><stop offset="0.43" stop-color="#b1ff00"/><stop offset="0.51" stop-color="#c0ff00"/><stop offset="0.55" stop-color="#ffd600"/><stop offset="0.74" stop-color="#ffa000"/><stop offset="1" stop-color="#ff6a00"/></linearGradient><linearGradient id="g43" gradientUnits="userSpaceOnUse" x1="0" y1="362" x2="0" y2="399.6"><stop offset="0" stop-color="#56ff00"/><stop offset="0.21" stop-color="#5eff00"/><stop offset="0.43" stop-color="#9eff00"/><stop offset="0.51" stop-color="#c0ff00"/><stop offset="0.55" stop-color="#ffd400"/><stop offset="0.74" stop-color="#ffa000"/><stop offset="1" stop-color="#ff6c00"/></linearGradient><linearGradient id="g44" gradientUnits="userSpaceOnUse" x1="0" y1="362" x2="0" y2="399.6"><stop offset="0" stop-color="#48ff00"/><stop offset="0.21" stop-color="#4aff00"/><stop offset="0.43" stop-color="#8aff00"/><stop offset="0.51" stop-color="#c0ff00"/><stop offset="0.55" stop-color="#ffd100"/><stop offset="0.74" stop-color="#ffa000"/><stop offset="1" stop-color="#ff6f00"/></linearGradient><linearGradient id="g45" gradientUnits="userSpaceOnUse" x1="0" y1="362" x2="0" y2="418.8"><stop offset="0" stop-color="#40ff00"/><stop offset="0.14" stop-color="#40ff00"/><stop offset="0.28" stop-color="#80ff00"/><stop offset="0.33" stop-color="#c0ff00"/><stop offset="0.36" stop-color="#ffd000"/><stop offset="0.49" stop-color="#ffa000"/><stop offset="0.66" stop-color="#ff7000"/><stop offset="1" stop-color="#ff2000"/></linearGradient><linearGradient id="g46" gradientUnits="userSpaceOnUse" x1="0" y1="362" x2="0" y2="455.5"><stop offset="0" stop-color="#00ff40"/><stop offset="0.19" stop-color="#00ff00"/><stop offset="0.22" stop-color="#ffe000"/><stop offset="0.26" stop-color="#ffd200"/><stop offset="0.32" stop-color="#ffb600"/><stop offset="0.35" stop-color="#ffa800"/><stop offset="0.41" stop-color="#ff9000"/><stop offset="0.51" stop-color="#ff6000"/><stop offset="0.67" stop-color="#ff3000"/><stop offset="0.8" stop-color="#ff2000"/><stop offset="1" stop-color="#ff1000"/></linearGradient><linearGradient id="g47" gradientUnits="userSpaceOnUse" x1="0" y1="362" x2="0" y2="455.5"><stop offset="0" stop-color="#00ff40"/><stop offset="0.19" stop-color="#00ff00"/><stop offset="0.22" stop-color="#fff800"/><stop offset="0.26" stop-color="#ffe400"/><stop offset="0.32" stop-color="#ffc000"/><stop offset="0.35" stop-color="#ffb300"/><stop offset="0.41" stop-color="#ff9c00"/><stop offset="0.51" stop-color="#ff7400"/><stop offset="0.67" stop-color="#ff4400"/><stop offset="0.8" stop-color="#ff2c00"/><stop offset="1" stop-color="#ff1400"/></linearGradient><linearGradient id="g48" gradientUnits="userSpaceOnUse" x1="0" y1="362" x2="0" y2="455.5"><stop offset="0" stop-color="#00ff40"/><stop offset="0.19" stop-color="#00ff00"/><stop offset="0.22" stop-color="#d6ff00"/><stop offset="0.26" stop-color="#fff500"/><stop offset="0.32" stop-color="#ffcb00"/><stop offset="0.35" stop-color="#ffbe00"/><stop offset="0.41" stop-color="#ffa800"/><stop offset="0.51" stop-color="#ff8800"/><stop offset="0.67" stop-color="#ff5800"/><stop offset="0.8" stop-color="#ff3800"/><stop offset="1" stop-color="#ff1800"/></linearGradient><linearGradient id="g49" gradientUnits="userSpaceOnUse" x1="0" y1="362" x2="0" y2="455.5"><stop offset="0" stop-color="#00ff40"/><stop offset="0.19" stop-color="#00ff00"/><stop offset="0.22" stop-color="#9bff00"/><stop offset="0.26" stop-color="#ecff00"/><stop offset="0.32" stop-color="#ffd500"/><stop offset="0.35" stop-color="#ffc900"/><stop offset="0.41" stop-color="#ffb400"/><stop offset="0.51" stop-color="#ff9c00"/><stop offset="0.67" stop-color="#ff6c00"/><stop offset="0.8" stop-color="#ff4400"/><stop offset="1" stop-color="#ff1c00"/></linearGradient><linearGradient id="g50" gradientUnits="userSpaceOnUse" x1="0" y1="362" x2="0" y2="455.5"><stop offset="0" stop-color="#00ff40"/><stop offset="0.19" stop-color="#00ff00"/><stop offset="0.22" stop-color="#60ff00"/><stop offset="0.26" stop-color="#c0ff00"/><stop offset="0.32" stop-color="#ffe000"/><stop offset="0.35" stop-color="#ffd400"/><stop offset="0.41" stop-color="#ffc000"/><stop offset="0.51" stop-color="#ffb000"/><stop offset="0.67" stop-color="#ff8000"/><stop offset="0.8" stop-color="#ff5000"/><stop offset="1" stop-color="#ff2000"/></linearGradient><linearGradient id="g51" gradientUnits="userSpaceOnUse" x1="0" y1="362" x2="0" y2="455.5"><stop offset="0" stop-color="#00ff54"/><stop offset="0.19" stop-color="#00ff0d"/><stop offset="0.22" stop-color="#3dff00"/><stop offset="0.26" stop-color="#90ff00"/><stop offset="0.32" stop-color="#fff900"/><stop offset="0.35" stop-color="#ffed00"/><stop offset="0.41" stop-color="#ffd200"/><stop offset="0.51" stop-color="#ffc100"/><stop offset="0.67" stop-color="#ff8a00"/><stop offset="0.8" stop-color="#ff5a00"/><stop offset="1" stop-color="#ff2d00"/></linearGradient><linearGradient id="g52" gradientUnits="userSpaceOnUse" x1="0" y1="362" x2="0" y2="455.5"><stop offset="0" stop-color="#00ff68"/><stop offset="0.19" stop-color="#00ff1b"/><stop offset="0.22" stop-color="#1aff00"/><stop offset="0.26" stop-color="#60ff00"/><stop offset="0.32" stop-color="#ceff00"/><stop offset="0.35" stop-color="#eeff00"/><stop offset="0.41" stop-color="#ffe500"/><stop offset="0.51" stop-color="#ffd100"/><stop offset="0.67" stop-color="#ff9400"/><stop offset="0.8" stop-color="#ff6400"/><stop offset="1" stop-color="#ff3b00"/></linearGradient><linearGradient id="g53" gradientUnits="userSpaceOnUse" x1="0" y1="362" x2="0" y2="455.5"><stop offset="0" stop-color="#00ff7c"/><stop offset="0.19" stop-color="#00ff28"/><stop offset="0.22" stop-color="#00ff05"/><stop offset="0.26" stop-color="#30ff00"/><stop offset="0.32" stop-color="#90ff00"/><stop offset="0.35" stop-color="#b0ff00"/><stop offset="0.41" stop-color="#fff700"/><stop offset="0.51" stop-color="#ffe100"/><stop offset="0.67" stop-color="#ff9e00"/><stop offset="0.8" stop-color="#ff6e00"/><stop offset="1" stop-color="#ff4800"/></linearGradient><linearGradient id="g54" gradientUnits="userSpaceOnUse" x1="0" y1="362" x2="0" y2="455.5"><stop offset="0" stop-color="#00ff90"/><stop offset="0.19" stop-color="#00ff35"/><stop offset="0.22" stop-color="#00ff1a"/><stop offset="0.26" stop-color="#01ff00"/><stop offset="0.32" stop-color="#51ff00"/><stop offset="0.35" stop-color="#72ff00"/><stop offset="0.41" stop-color="#e4ff00"/><stop offset="0.51" stop-color="#fff200"/><stop offset="0.67" stop-color="#ffa800"/><stop offset="0.8" stop-color="#ff7800"/><stop offset="1" stop-color="#ff5500"/></linearGradient><linearGradient id="g55" gradientUnits="userSpaceOnUse" x1="0" y1="362" x2="0" y2="455.5"><stop offset="0" stop-color="#00ffa0"/><stop offset="0.19" stop-color="#00ff40"/><stop offset="0.22" stop-color="#00ff2b"/><stop offset="0.26" stop-color="#00ff17"/><stop offset="0.32" stop-color="#1eff00"/><stop offset="0.35" stop-color="#40ff00"/><stop offset="0.41" stop-color="#c0ff00"/><stop offset="0.51" stop-color="#ffff00"/><stop offset="0.67" stop-color="#ffb000"/><stop offset="0.8" stop-color="#ff8000"/><stop offset="1" stop-color="#ff6000"/></linearGradient><linearGradient id="g56" gradientUnits="userSpaceOnUse" x1="0" y1="362" x2="0" y2="455.5"><stop offset="0" stop-color="#00ffb0"/><stop offset="0.14" stop-color="#00ffa0"/><stop offset="0.25" stop-color="#00ff40"/><stop offset="0.35" stop-color="#00ff00"/><stop offset="0.46" stop-color="#20ff00"/><stop offset="0.51" stop-color="#a0ff00"/><stop offset="0.57" stop-color="#ffff00"/><stop offset="0.62" stop-color="#ffe000"/><stop offset="0.73" stop-color="#ffd000"/><stop offset="1" stop-color="#ffb000"/></linearGradient><linearGradient id="g57" gradientUnits="userSpaceOnUse" x1="0" y1="362" x2="0" y2="455.5"><stop offset="0" stop-color="#00ffb0"/><stop offset="0.14" stop-color="#00ffa0"/><stop offset="0.25" stop-color="#00ff40"/><stop offset="0.35" stop-color="#00ff00"/><stop offset="0.46" stop-color="#1dff00"/><stop offset="0.51" stop-color="#98ff00"/><stop offset="0.57" stop-color="#f4ff00"/><stop offset="0.62" stop-color="#ffe400"/><stop offset="0.73" stop-color="#ffd000"/><stop offset="1" stop-color="#ffb000"/></linearGradient><linearGradient id="g58" gradientUnits="userSpaceOnUse" x1="0" y1="362" x2="0" y2="455.5"><stop offset="0" stop-color="#00ffb0"/><stop offset="0.14" stop-color="#00ffa0"/><stop offset="0.25" stop-color="#00ff40"/><stop offset="0.35" stop-color="#00ff00"/><stop offset="0.46" stop-color="#18ff00"/><stop offset="0.51" stop-color="#88ff00"/><stop offset="0.57" stop-color="#dfff00"/><stop offset="0.62" stop-color="#ffeb00"/><stop offset="0.73" stop-color="#ffd000"/><stop offset="1" stop-color="#ffb000"/></linearGradient><linearGradient id="g59" gradientUnits="userSpaceOnUse" x1="0" y1="362" x2="0" y2="455.5"><stop offset="0" stop-color="#00ffb0"/><stop offset="0.14" stop-color="#00ffa0"/><stop offset="0.25" stop-color="#00ff40"/><stop offset="0.35" stop-color="#00ff00"/><stop offset="0.46" stop-color="#12ff00"/><stop offset="0.51" stop-color="#78ff00"/><stop offset="0.57" stop-color="#caff00"/><stop offset="0.62" stop-color="#fff200"/><stop offset="0.73" stop-color="#ffd000"/><stop offset="1" stop-color="#ffb000"/></linearGradient><linearGradient id="g60" gradientUnits="userSpaceOnUse" x1="0" y1="362" x2="0" y2="455.5"><stop offset="0" stop-color="#00ffb0"/><stop offset="0.14" stop-color="#00ffa0"/><stop offset="0.25" stop-color="#00ff40"/><stop offset="0.35" stop-color="#00ff00"/><stop offset="0.46" stop-color="#0dff00"/><stop offset="0.51" stop-color="#68ff00"/><stop offset="0.57" stop-color="#b5ff00"/><stop offset="0.62" stop-color="#fff900"/><stop offset="0.73" stop-color="#ffd000"/><stop offset="1" stop-color="#ffb000"/></linearGradient><linearGradient id="g61" gradientUnits="userSpaceOnUse" x1="0" y1="362" x2="0" y2="455.5"><stop offset="0" stop-color="#00ffb0"/><stop offset="0.14" stop-color="#00ffa0"/><stop offset="0.25" stop-color="#00ff40"/><stop offset="0.35" stop-color="#00ff00"/><stop offset="0.46" stop-color="#08ff00"/><stop offset="0.51" stop-color="#58ff00"/><stop offset="0.57" stop-color="#a0ff00"/><stop offset="0.62" stop-color="#fbff00"/><stop offset="0.73" stop-color="#ffd000"/><stop offset="1" stop-color="#ffb000"/></linearGradient><linearGradient id="g62" gradientUnits="userSpaceOnUse" x1="0" y1="362" x2="0" y2="455.5"><stop offset="0" stop-color="#00ffb0"/><stop offset="0.14" stop-color="#00ffa0"/><stop offset="0.25" stop-color="#00ff40"/><stop offset="0.35" stop-color="#00ff00"/><stop offset="0.46" stop-color="#03ff00"/><stop offset="0.51" stop-color="#48ff00"/><stop offset="0.57" stop-color="#8bff00"/><stop offset="0.62" stop-color="#e9ff00"/><stop offset="0.73" stop-color="#ffd000"/><stop offset="1" stop-color="#ffb000"/></linearGradient><linearGradient id="g63" gradientUnits="userSpaceOnUse" x1="0" y1="362" x2="0" y2="455.5"><stop offset="0" stop-color="#00ffb0"/><stop offset="0.14" stop-color="#00ffa0"/><stop offset="0.25" stop-color="#00ff40"/><stop offset="0.35" stop-color="#00ff00"/><stop offset="0.46" stop-color="#00ff00"/><stop offset="0.51" stop-color="#40ff00"/><stop offset="0.57" stop-color="#80ff00"/><stop offset="0.62" stop-color="#e0ff00"/><stop offset="0.73" stop-color="#ffd000"/><stop offset="1" stop-color="#ffb000"/></linearGradient><linearGradient id="g64" gradientUnits="userSpaceOnUse" x1="0" y1="362" x2="0" y2="418.7"><stop offset="0" stop-color="#00ff40"/><stop offset="0.32" stop-color="#00ff00"/><stop offset="0.35" stop-color="#c0ff00"/><stop offset="0.37" stop-color="#ffff00"/><stop offset="0.42" stop-color="#ffd000"/><stop offset="0.49" stop-color="#ffb000"/><stop offset="0.67" stop-color="#ff8000"/><stop offset="0.85" stop-color="#ff5000"/><stop offset="1" stop-color="#ff3000"/></linearGradient><linearGradient id="g65" gradientUnits="userSpaceOnUse" x1="0" y1="418.7" x2="0" y2="436.8"><stop offset="0" stop-color="#ff2800"/><stop offset="1" stop-color="#ff2000"/></linearGradient><linearGradient id="g66" gradientUnits="userSpaceOnUse" x1="0" y1="362" x2="0" y2="456"><stop offset="0" stop-color="#00a8ff"/><stop offset="0.14" stop-color="#00c0ff"/><stop offset="0.2" stop-color="#00f0ff"/><stop offset="0.22" stop-color="#00ffc0"/><stop offset="0.3" stop-color="#00ff80"/><stop offset="0.4" stop-color="#00ff40"/><stop offset="0.47" stop-color="#00ff20"/><stop offset="0.56" stop-color="#40ff00"/><stop offset="0.62" stop-color="#a0ff00"/><stop offset="0.67" stop-color="#ffff00"/><stop offset="0.83" stop-color="#ffc000"/><stop offset="1" stop-color="#ff9000"/></linearGradient><linearGradient id="g67" gradientUnits="userSpaceOnUse" x1="0" y1="362" x2="0" y2="456"><stop offset="0" stop-color="#0090ff"/><stop offset="0.2" stop-color="#00b0ff"/><stop offset="0.22" stop-color="#00ffa0"/><stop offset="0.35" stop-color="#00ff60"/><stop offset="0.46" stop-color="#00ff20"/><stop offset="0.51" stop-color="#00ff00"/><stop offset="0.67" stop-color="#80ff00"/><stop offset="0.78" stop-color="#e0ff00"/><stop offset="0.83" stop-color="#ffff00"/><stop offset="1" stop-color="#ffc000"/></linearGradient><linearGradient id="g68" gradientUnits="userSpaceOnUse" x1="0" y1="362" x2="0" y2="456"><stop offset="0" stop-color="#0040ff"/><stop offset="0.2" stop-color="#0060ff"/><stop offset="0.22" stop-color="#00d0ff"/><stop offset="0.3" stop-color="#00ffff"/><stop offset="0.4" stop-color="#00ffa0"/><stop offset="0.47" stop-color="#00ff80"/><stop offset="0.56" stop-color="#00ff20"/><stop offset="0.67" stop-color="#40ff00"/><stop offset="0.83" stop-color="#a0ff00"/><stop offset="1" stop-color="#e0ff00"/></linearGradient><linearGradient id="g69" gradientUnits="userSpaceOnUse" x1="0" y1="362" x2="0" y2="456"><stop offset="0" stop-color="#0050ff"/><stop offset="0.14" stop-color="#0060ff"/><stop offset="0.21" stop-color="#0070ff"/><stop offset="0.22" stop-color="#00a0ff"/><stop offset="0.3" stop-color="#00e0ff"/><stop offset="0.37" stop-color="#00ffff"/><stop offset="0.4" stop-color="#00ffd0"/><stop offset="0.46" stop-color="#00ff80"/><stop offset="0.62" stop-color="#00ff20"/><stop offset="0.72" stop-color="#40ff00"/><stop offset="0.88" stop-color="#80ff00"/><stop offset="1" stop-color="#c0ff00"/></linearGradient><linearGradient id="g70" gradientUnits="userSpaceOnUse" x1="0" y1="362" x2="0" y2="456"><stop offset="0" stop-color="#0030ff"/><stop offset="0.19" stop-color="#0040ff"/><stop offset="0.3" stop-color="#0050ff"/><stop offset="0.4" stop-color="#0080ff"/><stop offset="0.41" stop-color="#00ffff"/><stop offset="0.47" stop-color="#00ffd0"/><stop offset="0.56" stop-color="#00ffa0"/><stop offset="0.67" stop-color="#00ff60"/><stop offset="0.83" stop-color="#00ff20"/><stop offset="1" stop-color="#20ff00"/></linearGradient><linearGradient id="g71" gradientUnits="userSpaceOnUse" x1="0" y1="362" x2="0" y2="456"><stop offset="0" stop-color="#00ff40"/><stop offset="0.14" stop-color="#20ff00"/><stop offset="0.24" stop-color="#00ff00"/><stop offset="0.35" stop-color="#60ff00"/><stop offset="0.46" stop-color="#c0ff00"/><stop offset="0.51" stop-color="#ffff00"/><stop offset="0.62" stop-color="#fff800"/><stop offset="1" stop-color="#ffe000"/></linearGradient><linearGradient id="g72" gradientUnits="userSpaceOnUse" x1="0" y1="362" x2="0" y2="456"><stop offset="0" stop-color="#00ff45"/><stop offset="0.14" stop-color="#1aff00"/><stop offset="0.24" stop-color="#00ff00"/><stop offset="0.35" stop-color="#5dff00"/><stop offset="0.46" stop-color="#baff00"/><stop offset="0.51" stop-color="#fbff00"/><stop offset="0.62" stop-color="#fff900"/><stop offset="1" stop-color="#ffe000"/></linearGradient><linearGradient id="g73" gradientUnits="userSpaceOnUse" x1="0" y1="362" x2="0" y2="456"><stop offset="0" stop-color="#00ff4e"/><stop offset="0.14" stop-color="#0fff00"/><stop offset="0.24" stop-color="#00ff00"/><stop offset="0.35" stop-color="#58ff00"/><stop offset="0.46" stop-color="#b0ff00"/><stop offset="0.51" stop-color="#f3ff00"/><stop offset="0.62" stop-color="#fff900"/><stop offset="1" stop-color="#ffe000"/></linearGradient><linearGradient id="g74" gradientUnits="userSpaceOnUse" x1="0" y1="362" x2="0" y2="456"><stop offset="0" stop-color="#00ff57"/><stop offset="0.14" stop-color="#03ff00"/><stop offset="0.24" stop-color="#00ff00"/><stop offset="0.35" stop-color="#52ff00"/><stop offset="0.46" stop-color="#a5ff00"/><stop offset="0.51" stop-color="#ebff00"/><stop offset="0.62" stop-color="#fffa00"/><stop offset="1" stop-color="#ffe000"/></linearGradient><linearGradient id="g75" gradientUnits="userSpaceOnUse" x1="0" y1="362" x2="0" y2="456"><stop offset="0" stop-color="#00ff61"/><stop offset="0.14" stop-color="#00ff05"/><stop offset="0.24" stop-color="#00ff00"/><stop offset="0.35" stop-color="#4dff00"/><stop offset="0.46" stop-color="#9bff00"/><stop offset="0.51" stop-color="#e3ff00"/><stop offset="0.62" stop-color="#fffa00"/><stop offset="1" stop-color="#ffe000"/></linearGradient><linearGradient id="g76" gradientUnits="userSpaceOnUse" x1="0" y1="362" x2="0" y2="456"><stop offset="0" stop-color="#00ff6a"/><stop offset="0.14" stop-color="#00ff0c"/><stop offset="0.24" stop-color="#00ff00"/><stop offset="0.35" stop-color="#48ff00"/><stop offset="0.46" stop-color="#90ff00"/><stop offset="0.51" stop-color="#dbff00"/><stop offset="0.62" stop-color="#fffb00"/><stop offset="1" stop-color="#ffe000"/></linearGradient><linearGradient id="g77" gradientUnits="userSpaceOnUse" x1="0" y1="362" x2="0" y2="456"><stop offset="0" stop-color="#00ff73"/><stop offset="0.14" stop-color="#00ff13"/><stop offset="0.24" stop-color="#00ff00"/><stop offset="0.35" stop-color="#42ff00"/><stop offset="0.46" stop-color="#85ff00"/><stop offset="0.51" stop-color="#d3ff00"/><stop offset="0.62" stop-color="#fffb00"/><stop offset="1" stop-color="#ffe000"/></linearGradient><linearGradient id="g78" gradientUnits="userSpaceOnUse" x1="0" y1="362" x2="0" y2="456"><stop offset="0" stop-color="#00ff7d"/><stop offset="0.14" stop-color="#00ff1a"/><stop offset="0.24" stop-color="#00ff00"/><stop offset="0.35" stop-color="#3dff00"/><stop offset="0.46" stop-color="#7bff00"/><stop offset="0.51" stop-color="#ccff00"/><stop offset="0.62" stop-color="#fffc00"/><stop offset="1" stop-color="#ffe000"/></linearGradient><linearGradient id="g79" gradientUnits="userSpaceOnUse" x1="0" y1="362" x2="0" y2="456"><stop offset="0" stop-color="#00ff86"/><stop offset="0.14" stop-color="#00ff21"/><stop offset="0.24" stop-color="#00ff00"/><stop offset="0.35" stop-color="#38ff00"/><stop offset="0.46" stop-color="#70ff00"/><stop offset="0.51" stop-color="#c4ff00"/><stop offset="0.62" stop-color="#fffc00"/><stop offset="1" stop-color="#ffe000"/></linearGradient><linearGradient id="g80" gradientUnits="userSpaceOnUse" x1="0" y1="362" x2="0" y2="456"><stop offset="0" stop-color="#00ff8f"/><stop offset="0.14" stop-color="#00ff28"/><stop offset="0.24" stop-color="#00ff00"/><stop offset="0.35" stop-color="#32ff00"/><stop offset="0.46" stop-color="#65ff00"/><stop offset="0.51" stop-color="#bcff00"/><stop offset="0.62" stop-color="#fffd00"/><stop offset="1" stop-color="#ffe000"/></linearGradient><linearGradient id="g81" gradientUnits="userSpaceOnUse" x1="0" y1="362" x2="0" y2="456"><stop offset="0" stop-color="#00ff99"/><stop offset="0.14" stop-color="#00ff2f"/><stop offset="0.24" stop-color="#00ff00"/><stop offset="0.35" stop-color="#2dff00"/><stop offset="0.46" stop-color="#5bff00"/><stop offset="0.51" stop-color="#b4ff00"/><stop offset="0.62" stop-color="#fffe00"/><stop offset="1" stop-color="#ffe000"/></linearGradient><linearGradient id="g82" gradientUnits="userSpaceOnUse" x1="0" y1="362" x2="0" y2="456"><stop offset="0" stop-color="#00ffa2"/><stop offset="0.14" stop-color="#00ff36"/><stop offset="0.24" stop-color="#00ff00"/><stop offset="0.35" stop-color="#28ff00"/><stop offset="0.46" stop-color="#50ff00"/><stop offset="0.51" stop-color="#acff00"/><stop offset="0.62" stop-color="#fffe00"/><stop offset="1" stop-color="#ffe000"/></linearGradient><linearGradient id="g83" gradientUnits="userSpaceOnUse" x1="0" y1="362" x2="0" y2="456"><stop offset="0" stop-color="#00ffab"/><stop offset="0.14" stop-color="#00ff3d"/><stop offset="0.24" stop-color="#00ff00"/><stop offset="0.35" stop-color="#22ff00"/><stop offset="0.46" stop-color="#46ff00"/><stop offset="0.51" stop-color="#a4ff00"/><stop offset="0.62" stop-color="#ffff00"/><stop offset="1" stop-color="#ffe000"/></linearGradient><linearGradient id="g84" gradientUnits="userSpaceOnUse" x1="0" y1="362" x2="0" y2="456"><stop offset="0" stop-color="#00ffb0"/><stop offset="0.14" stop-color="#00ff40"/><stop offset="0.24" stop-color="#00ff00"/><stop offset="0.35" stop-color="#20ff00"/><stop offset="0.46" stop-color="#40ff00"/><stop offset="0.51" stop-color="#a0ff00"/><stop offset="0.62" stop-color="#ffff00"/><stop offset="1" stop-color="#ffe000"/></linearGradient><linearGradient id="g85" gradientUnits="userSpaceOnUse" x1="0" y1="362" x2="0" y2="456"><stop offset="0" stop-color="#0040ff"/><stop offset="0.3" stop-color="#0040ff"/><stop offset="0.46" stop-color="#0070ff"/><stop offset="0.56" stop-color="#00b0ff"/><stop offset="0.67" stop-color="#00ffff"/><stop offset="0.83" stop-color="#00ffd0"/><stop offset="1" stop-color="#00ffb0"/></linearGradient><linearGradient id="g86" gradientUnits="userSpaceOnUse" x1="0" y1="362" x2="0" y2="456"><stop offset="0" stop-color="#0040ff"/><stop offset="0.35" stop-color="#0050ff"/><stop offset="0.51" stop-color="#0090ff"/><stop offset="0.67" stop-color="#00e0ff"/><stop offset="0.83" stop-color="#00ffd0"/><stop offset="1" stop-color="#00ffa0"/></linearGradient><linearGradient id="g87" gradientUnits="userSpaceOnUse" x1="0" y1="362" x2="0" y2="456"><stop offset="0" stop-color="#0030ff"/><stop offset="0.4" stop-color="#0040ff"/><stop offset="0.62" stop-color="#00a0ff"/><stop offset="0.78" stop-color="#00ffff"/><stop offset="1" stop-color="#00ffd0"/></linearGradient><linearGradient id="g88" gradientUnits="userSpaceOnUse" x1="0" y1="362" x2="0" y2="456"><stop offset="0" stop-color="#0030ff"/><stop offset="0.46" stop-color="#0040ff"/><stop offset="0.67" stop-color="#00a0ff"/><stop offset="0.83" stop-color="#00ffff"/><stop offset="1" stop-color="#00ffe0"/></linearGradient><linearGradient id="g89" gradientUnits="userSpaceOnUse" x1="0" y1="362" x2="0" y2="456"><stop offset="0" stop-color="#0030ff"/><stop offset="0.4" stop-color="#0040ff"/><stop offset="0.62" stop-color="#00a0ff"/><stop offset="0.83" stop-color="#00ffff"/><stop offset="1" stop-color="#00ffd0"/></linearGradient><linearGradient id="g90" gradientUnits="userSpaceOnUse" x1="0" y1="362" x2="0" y2="456"><stop offset="0" stop-color="#0020ff"/><stop offset="0.4" stop-color="#0040ff"/><stop offset="0.67" stop-color="#00b0ff"/><stop offset="0.83" stop-color="#00ffff"/><stop offset="1" stop-color="#00ffd0"/></linearGradient><linearGradient id="g91" gradientUnits="userSpaceOnUse" x1="0" y1="362" x2="0" y2="456"><stop offset="0" stop-color="#0020ff"/><stop offset="0.62" stop-color="#0080ff"/><stop offset="1" stop-color="#00e0ff"/></linearGradient><linearGradient id="cbar" gradientUnits="userSpaceOnUse" x1="0" y1="338" x2="0" y2="480"><stop offset="0" stop-color="#ff0000"/><stop offset="0.36" stop-color="#ffff00"/><stop offset="0.51" stop-color="#00ff00"/><stop offset="0.75" stop-color="#00ffff"/><stop offset="0.89" stop-color="#0000ff"/><stop offset="1" stop-color="#000080"/></linearGradient></defs><rect x="127" y="362" width="8" height="94" fill="url(#g1)" shape-rendering="crispEdges"/>
<rect x="144" y="362" width="7" height="94" fill="url(#g2)" shape-rendering="crispEdges"/>
<rect x="182" y="362" width="6" height="94" fill="url(#g3)" shape-rendering="crispEdges"/>
<rect x="196" y="362" width="10" height="94" fill="url(#g4)" shape-rendering="crispEdges"/>
<rect x="212" y="362" width="1" height="94" fill="url(#g5)" shape-rendering="crispEdges"/>
<rect x="213" y="362" width="1" height="94" fill="url(#g6)" shape-rendering="crispEdges"/>
<rect x="214" y="362" width="1" height="94" fill="url(#g7)" shape-rendering="crispEdges"/>
<rect x="215" y="362" width="1" height="94" fill="url(#g8)" shape-rendering="crispEdges"/>
<rect x="216" y="362" width="1" height="94" fill="url(#g9)" shape-rendering="crispEdges"/>
<rect x="217" y="362" width="1" height="94" fill="url(#g10)" shape-rendering="crispEdges"/>
<rect x="218" y="362" width="1" height="94" fill="url(#g11)" shape-rendering="crispEdges"/>
<rect x="219" y="362" width="1" height="94" fill="url(#g12)" shape-rendering="crispEdges"/>
<rect x="220" y="362" width="1" height="94" fill="url(#g13)" shape-rendering="crispEdges"/>
<rect x="221" y="362" width="1" height="94" fill="url(#g14)" shape-rendering="crispEdges"/>
<rect x="222" y="362" width="1" height="94" fill="url(#g15)" shape-rendering="crispEdges"/>
<rect x="223" y="362" width="1" height="94" fill="url(#g16)" shape-rendering="crispEdges"/>
<rect x="227" y="362" width="1" height="94" fill="url(#g17)" shape-rendering="crispEdges"/>
<rect x="228" y="362" width="1" height="94" fill="url(#g18)" shape-rendering="crispEdges"/>
<rect x="229" y="362" width="1" height="94" fill="url(#g19)" shape-rendering="crispEdges"/>
<rect x="230" y="362" width="1" height="94" fill="url(#g20)" shape-rendering="crispEdges"/>
<rect x="231" y="362" width="1" height="94" fill="url(#g21)" shape-rendering="crispEdges"/>
<rect x="232" y="362" width="1" height="94" fill="url(#g22)" shape-rendering="crispEdges"/>
<rect x="233" y="362" width="1" height="94" fill="url(#g23)" shape-rendering="crispEdges"/>
<rect x="234" y="362" width="1" height="94" fill="url(#g24)" shape-rendering="crispEdges"/>
<rect x="235" y="362" width="1" height="94" fill="url(#g25)" shape-rendering="crispEdges"/>
<rect x="236" y="362" width="1" height="94" fill="url(#g26)" shape-rendering="crispEdges"/>
<rect x="237" y="362" width="1" height="94" fill="url(#g27)" shape-rendering="crispEdges"/>
<rect x="238" y="362" width="1" height="94" fill="url(#g28)" shape-rendering="crispEdges"/>
<rect x="239" y="362" width="1" height="94" fill="url(#g29)" shape-rendering="crispEdges"/>
<rect x="240" y="362" width="1" height="94" fill="url(#g30)" shape-rendering="crispEdges"/>
<rect x="241" y="362" width="1" height="94" fill="url(#g31)" shape-rendering="crispEdges"/>
<rect x="242" y="362" width="1" height="94" fill="url(#g32)" shape-rendering="crispEdges"/>
<rect x="243" y="362" width="1" height="94" fill="url(#g33)" shape-rendering="crispEdges"/>
<rect x="244" y="362" width="1" height="94" fill="url(#g34)" shape-rendering="crispEdges"/>
<rect x="245" y="362" width="6" height="56.8" fill="url(#g35)" shape-rendering="crispEdges"/>
<rect x="251" y="362" width="6" height="56.8" fill="url(#g36)" shape-rendering="crispEdges"/>
<rect x="257" y="362" width="17" height="37.6" fill="url(#g37)" shape-rendering="crispEdges"/>
<rect x="278" y="362" width="1" height="37.6" fill="url(#g38)" shape-rendering="crispEdges"/>
<rect x="279" y="362" width="1" height="37.6" fill="url(#g39)" shape-rendering="crispEdges"/>
<rect x="280" y="362" width="1" height="37.6" fill="url(#g40)" shape-rendering="crispEdges"/>
<rect x="281" y="362" width="1" height="37.6" fill="url(#g41)" shape-rendering="crispEdges"/>
<rect x="282" y="362" width="1" height="37.6" fill="url(#g42)" shape-rendering="crispEdges"/>
<rect x="283" y="362" width="1" height="37.6" fill="url(#g43)" shape-rendering="crispEdges"/>
<rect x="284" y="362" width="1" height="37.6" fill="url(#g44)" shape-rendering="crispEdges"/>
<rect x="285" y="362" width="4" height="56.8" fill="url(#g45)" shape-rendering="crispEdges"/>
<rect x="294" y="362" width="1" height="93.5" fill="url(#g46)" shape-rendering="crispEdges"/>
<rect x="295" y="362" width="1" height="93.5" fill="url(#g47)" shape-rendering="crispEdges"/>
<rect x="296" y="362" width="1" height="93.5" fill="url(#g48)" shape-rendering="crispEdges"/>
<rect x="297" y="362" width="1" height="93.5" fill="url(#g49)" shape-rendering="crispEdges"/>
<rect x="298" y="362" width="1" height="93.5" fill="url(#g50)" shape-rendering="crispEdges"/>
<rect x="299" y="362" width="1" height="93.5" fill="url(#g51)" shape-rendering="crispEdges"/>
<rect x="300" y="362" width="1" height="93.5" fill="url(#g52)" shape-rendering="crispEdges"/>
<rect x="301" y="362" width="1" height="93.5" fill="url(#g53)" shape-rendering="crispEdges"/>
<rect x="302" y="362" width="1" height="93.5" fill="url(#g54)" shape-rendering="crispEdges"/>
<rect x="303" y="362" width="1" height="93.5" fill="url(#g55)" shape-rendering="crispEdges"/>
<rect x="293.5" y="436.8" width="3.9" height="20" fill="#fff"/>
<rect x="311" y="362" width="1" height="93.5" fill="url(#g56)" shape-rendering="crispEdges"/>
<rect x="312" y="362" width="1" height="93.5" fill="url(#g57)" shape-rendering="crispEdges"/>
<rect x="313" y="362" width="1" height="93.5" fill="url(#g58)" shape-rendering="crispEdges"/>
<rect x="314" y="362" width="1" height="93.5" fill="url(#g59)" shape-rendering="crispEdges"/>
<rect x="315" y="362" width="1" height="93.5" fill="url(#g60)" shape-rendering="crispEdges"/>
<rect x="316" y="362" width="1" height="93.5" fill="url(#g61)" shape-rendering="crispEdges"/>
<rect x="317" y="362" width="1" height="93.5" fill="url(#g62)" shape-rendering="crispEdges"/>
<rect x="318" y="362" width="1" height="93.5" fill="url(#g63)" shape-rendering="crispEdges"/>
<rect x="328" y="362" width="6" height="56.7" fill="url(#g64)" shape-rendering="crispEdges"/>
<rect x="328" y="418.7" width="2" height="18.1" fill="url(#g65)" shape-rendering="crispEdges"/>
<rect x="365" y="362" width="7" height="94" fill="url(#g66)" shape-rendering="crispEdges"/>
<rect x="381" y="362" width="8" height="94" fill="url(#g67)" shape-rendering="crispEdges"/>
<rect x="395" y="362" width="12" height="94" fill="url(#g68)" shape-rendering="crispEdges"/>
<rect x="410" y="362" width="17" height="94" fill="url(#g69)" shape-rendering="crispEdges"/>
<rect x="429" y="362" width="15" height="94" fill="url(#g70)" shape-rendering="crispEdges"/>
<rect x="444" y="362" width="1" height="94" fill="url(#g71)" shape-rendering="crispEdges"/>
<rect x="445" y="362" width="1" height="94" fill="url(#g72)" shape-rendering="crispEdges"/>
<rect x="446" y="362" width="1" height="94" fill="url(#g73)" shape-rendering="crispEdges"/>
<rect x="447" y="362" width="1" height="94" fill="url(#g74)" shape-rendering="crispEdges"/>
<rect x="448" y="362" width="1" height="94" fill="url(#g75)" shape-rendering="crispEdges"/>
<rect x="449" y="362" width="1" height="94" fill="url(#g76)" shape-rendering="crispEdges"/>
<rect x="450" y="362" width="1" height="94" fill="url(#g77)" shape-rendering="crispEdges"/>
<rect x="451" y="362" width="1" height="94" fill="url(#g78)" shape-rendering="crispEdges"/>
<rect x="452" y="362" width="1" height="94" fill="url(#g79)" shape-rendering="crispEdges"/>
<rect x="453" y="362" width="1" height="94" fill="url(#g80)" shape-rendering="crispEdges"/>
<rect x="454" y="362" width="1" height="94" fill="url(#g81)" shape-rendering="crispEdges"/>
<rect x="455" y="362" width="1" height="94" fill="url(#g82)" shape-rendering="crispEdges"/>
<rect x="456" y="362" width="1" height="94" fill="url(#g83)" shape-rendering="crispEdges"/>
<rect x="457" y="362" width="1" height="94" fill="url(#g84)" shape-rendering="crispEdges"/>
<rect x="461" y="362" width="11" height="94" fill="url(#g85)" shape-rendering="crispEdges"/>
<rect x="478" y="362" width="9" height="94" fill="url(#g86)" shape-rendering="crispEdges"/>
<rect x="495" y="362" width="8" height="94" fill="url(#g87)" shape-rendering="crispEdges"/>
<rect x="511" y="362" width="7" height="94" fill="url(#g88)" shape-rendering="crispEdges"/>
<rect x="549" y="362" width="7" height="94" fill="url(#g89)" shape-rendering="crispEdges"/>
<rect x="564" y="362" width="9" height="94" fill="url(#g90)" shape-rendering="crispEdges"/>
<rect x="579" y="362" width="2" height="94" fill="url(#g91)" shape-rendering="crispEdges"/>
<rect x="593" y="338" width="12" height="142" fill="url(#cbar)"/>
<line x1="593" y1="480.5" x2="606" y2="480.5" stroke="#000" stroke-width="1"/>
<svg x="120" y="30" width="462" height="143" viewBox="120 30 462 143" overflow="hidden"><polyline fill="none" stroke="#000" stroke-width="1" stroke-linejoin="miter" points="120.5,98.5 120.5,98.5 121.5,103.5 123.5,103.5 123.5,134.5 127.5,134.5 127.5,114.5 129.5,149.5 132.5,149.5 133.5,123.5 136.5,123.5 137.5,114.5 138.5,114.5 139.5,103.5 140.5,114.5 142.5,114.5 143.5,98.5 144.5,98.5 144.5,77.5 146.5,77.5 146.5,61.5 148.5,61.5 148.5,103.5 150.5,103.5 150.5,83.5 152.5,83.5 153.5,87.5 154.5,98.5 154.5,98.5 157.5,98.5 158.5,108.5 159.5,108.5 160.5,139.5 163.5,139.5 164.5,118.5 165.5,118.5 166.5,108.5 167.5,103.5 168.5,103.5 169.5,92.5 173.5,92.5 173.5,108.5 175.5,108.5 176.5,118.5 177.5,123.5 180.5,123.5 181.5,114.5 184.5,129.5 186.5,129.5 187.5,118.5 189.5,134.5 190.5,134.5 191.5,129.5 192.5,118.5 194.5,118.5 194.5,134.5 196.5,134.5 196.5,118.5 198.5,118.5 198.5,134.5 199.5,134.5 200.5,154.5 201.5,154.5 202.5,129.5 204.5,129.5 205.5,134.5 206.5,129.5 207.5,129.5 208.5,149.5 209.5,149.5 212.5,114.5 215.5,114.5 216.5,149.5 217.5,149.5 218.5,139.5 219.5,139.5 219.5,145.5 221.5,145.5 221.5,123.5 223.5,123.5 224.5,118.5 225.5,118.5 225.5,160.5 226.5,160.5 227.5,129.5 228.5,129.5 229.5,134.5 230.5,134.5 231.5,149.5 234.5,149.5 235.5,145.5 238.5,145.5 239.5,139.5 240.5,134.5 241.5,134.5 242.5,145.5 244.5,145.5 244.5,134.5 246.5,134.5 246.5,154.5 248.5,154.5 248.5,139.5 249.5,139.5 250.5,98.5 254.5,98.5 256.5,114.5 257.5,114.5 259.5,129.5 260.5,129.5 260.5,123.5 262.5,103.5 263.5,103.5 264.5,114.5 264.5,114.5 265.5,103.5 267.5,103.5 267.5,77.5 269.5,77.5 269.5,83.5 271.5,83.5 271.5,87.5 273.5,87.5 273.5,67.5 275.5,67.5 276.5,56.5 277.5,46.5 278.5,46.5 280.5,67.5 280.5,67.5 281.5,56.5 282.5,56.5 283.5,83.5 285.5,72.5 287.5,92.5 290.5,92.5 290.5,98.5 292.5,98.5 292.5,56.5 294.5,56.5 294.5,77.5 296.5,77.5 297.5,92.5 297.5,92.5 298.5,72.5 300.5,72.5 302.5,56.5 304.5,77.5 305.5,77.5 306.5,92.5 308.5,103.5 310.5,72.5 312.5,77.5 313.5,77.5 314.5,134.5 315.5,92.5 317.5,92.5 318.5,108.5 319.5,108.5 320.5,114.5 321.5,114.5 322.5,123.5 323.5,103.5 324.5,103.5 325.5,114.5 327.5,103.5 328.5,103.5 329.5,114.5 332.5,114.5 333.5,134.5 335.5,118.5 335.5,118.5 337.5,139.5 338.5,139.5 338.5,114.5 340.5,114.5 340.5,77.5 342.5,77.5 342.5,67.5 344.5,67.5 344.5,56.5 346.5,56.5 346.5,87.5 348.5,98.5 350.5,108.5 355.5,108.5 356.5,108.5 357.5,103.5 358.5,108.5 358.5,114.5 359.5,114.5 360.5,129.5 361.5,129.5 362.5,114.5 363.5,114.5 363.5,129.5 365.5,129.5 365.5,154.5 367.5,154.5 367.5,134.5 369.5,134.5 369.5,145.5 370.5,145.5 371.5,118.5 373.5,118.5 375.5,108.5 377.5,118.5 380.5,118.5 381.5,139.5 382.5,123.5 385.5,118.5 389.5,118.5 389.5,123.5 390.5,123.5 390.5,139.5 392.5,139.5 394.5,149.5 395.5,149.5 396.5,123.5 397.5,123.5 398.5,145.5 399.5,145.5 400.5,139.5 405.5,139.5 406.5,134.5 407.5,139.5 408.5,145.5 409.5,145.5 410.5,154.5 413.5,154.5 413.5,134.5 415.5,134.5 415.5,145.5 416.5,145.5 416.5,134.5 418.5,134.5 419.5,145.5 421.5,145.5 422.5,154.5 423.5,149.5 424.5,154.5 425.5,149.5 426.5,154.5 427.5,149.5 428.5,145.5 429.5,160.5 431.5,145.5 434.5,145.5 435.5,149.5 437.5,154.5 438.5,154.5 438.5,165.5 442.5,165.5 442.5,149.5 443.5,149.5 444.5,129.5 445.5,129.5 447.5,139.5 448.5,149.5 449.5,139.5 450.5,139.5 452.5,129.5 455.5,129.5 456.5,139.5 457.5,154.5 458.5,139.5 459.5,139.5 459.5,123.5 463.5,123.5 463.5,149.5 466.5,149.5 468.5,154.5 469.5,149.5 471.5,145.5 474.5,145.5 475.5,160.5 480.5,160.5 481.5,154.5 483.5,160.5 490.5,160.5 490.5,165.5 492.5,165.5 492.5,160.5 493.5,160.5 494.5,134.5 495.5,134.5 496.5,118.5 498.5,145.5 499.5,145.5 500.5,160.5 502.5,134.5 503.5,134.5 504.5,108.5 505.5,108.5 506.5,118.5 507.5,118.5 508.5,134.5 509.5,134.5 510.5,123.5 511.5,123.5 511.5,108.5 513.5,108.5 513.5,129.5 515.5,129.5 515.5,118.5 517.5,114.5 520.5,114.5 521.5,103.5 523.5,129.5 524.5,129.5 526.5,134.5 526.5,139.5 528.5,139.5 529.5,139.5 531.5,145.5 532.5,145.5 532.5,114.5 534.5,114.5 534.5,118.5 536.5,118.5 536.5,123.5 538.5,123.5 538.5,118.5 540.5,118.5 540.5,134.5 543.5,134.5 544.5,114.5 546.5,139.5 549.5,139.5 551.5,123.5 553.5,129.5 555.5,139.5 557.5,134.5 558.5,139.5 559.5,129.5 561.5,129.5 561.5,154.5 564.5,154.5 565.5,160.5 567.5,145.5 570.5,145.5 572.5,139.5 572.5,139.5 573.5,108.5 575.5,129.5 576.5,129.5 577.5,134.5 579.5,123.5 580.5,123.5 582.5,118.5"/></svg>
<svg x="120" y="184" width="462" height="143" viewBox="120 184 462 143" overflow="hidden"><polyline fill="none" stroke="#000" stroke-width="1.1" stroke-linejoin="miter" points="120,275 120.5,271.7 121.4,265 122.8,266 123.7,262.1 124.7,257.4 126,253.5 127.2,255.4 128.5,248.8 129.9,247.8 131,245.9 132.3,247.8 133.3,246.8 134.3,244.9 135.6,243 137.1,241.1 138.1,244.9 139,246.8 140.6,244.9 141.9,248.8 143.2,248.8 144.4,236.3 145.3,240.2 146.3,245.9 147.1,250.7 148.2,244.9 149.5,245.9 150.9,248.8 152,257.4 153.4,261.2 154.3,257.4 155.3,253.5 156.2,259.3 157.2,253.5 158.2,255.4 159.1,250.7 160.4,248.8 162,245.9 163.5,247.8 164.8,251.6 166.2,243 167.3,241.1 168.1,243 169.2,257.4 170.6,261.2 172.1,266 173.1,259.3 174.4,247.4 175.8,249.3 177.1,244.5 178.3,242.6 179,246.4 180.6,245.5 182.1,243.5 183.4,238.8 184.8,239.7 186.3,242.6 187.8,240.7 190.1,241.2 192.4,240.7 193.9,241.2 195.5,239.7 196.8,246.4 198.2,237.8 199.7,231.7 201.2,234.9 202.5,236.8 203.9,237.8 205.4,240.7 206.9,238.8 208.3,239.7 209.6,237.8 211.2,234.9 212.7,231.1 214,225.4 215.4,230.2 216.9,236.8 218.4,240.1 219.8,234.9 221.1,234 222.6,232.1 224.2,228.2 225.9,228.5 227.4,232.3 228.8,237.1 230.1,233.2 231.6,232.3 233.2,233.2 233.9,230.4 235.5,224.6 237,226.5 238.3,227.5 239.7,229.4 241.2,227.1 242.5,230.4 244.1,224.6 245.4,223.3 246.9,219.5 248.5,222.7 249.8,226.5 250.8,224.6 251.7,208.4 252.7,223.7 253.6,237.1 254.6,236.1 255.5,238 256.9,240.9 258,235.2 259.4,228.5 260.7,222.7 261.9,231.3 263.2,240.9 264.5,232.3 265.7,229.4 266.9,226.7 267.9,234.3 268.8,242 269.8,254.4 271.1,255.4 272.3,265.9 273,267.8 273.6,258.2 274.2,239.1 274.6,223.8 275.5,235.3 276.5,241 277.4,267.8 278.4,286.9 279.3,302.2 280.3,314.6 281.3,300.3 282.2,290.7 283.2,285 284.1,278.3 285.7,276.4 287,272.6 288.3,271.6 289.5,272.6 290.8,264 291.8,263 292.7,257.3 293.7,265.9 294.6,259.2 295.6,270.7 296.5,261.1 297.9,258.2 299,260.2 300.4,252.5 301.3,263 302.3,277.4 303.2,279.3 304.2,266.8 305.2,275.4 306.1,267.8 307.4,272.6 308.6,269.7 309.9,263 310.9,270.7 311.8,276.4 312.8,272.6 314.3,271.6 315.7,270.7 317,269.7 318.5,256.3 320.1,257.3 320.9,253.5 321.8,251.6 322.8,261.2 323.7,265 325.3,261.2 326.6,262.1 327.6,255.4 329.1,254.5 330.4,249.7 331.4,246.8 332.9,250.7 334.8,250.7 336.2,243 337.5,240.2 338.7,242.1 340,237.3 340.9,235 341.9,241.1 343.2,251.6 344.4,261.2 345.3,273.6 346.7,250.7 347.6,261.2 348.6,270.7 349.5,263.1 351.5,253.5 353.4,254.5 354.7,256.4 356.2,259.3 357.2,253.5 358.5,251.6 360.1,250.7 361.6,247.8 362.9,257.4 364.3,249.7 365.8,246.8 367.3,241.1 368.7,245.9 370,246.8 371.5,244.9 372.5,245.4 373.9,249.3 374.8,250.8 376.4,247.4 377.7,243.5 378.6,246.4 379.6,247 380.6,242.6 382.1,238.8 383.4,240.7 384.8,247.4 386.3,250.2 387.8,252.1 388.6,254.1 390.1,251.2 391.7,247.4 393,243.5 394.3,242.6 395.9,242.6 397.4,235.9 398.7,234.9 400.1,240.7 401.6,242.6 403.1,245.4 404.5,242.6 405.8,243.2 407.3,241.6 408.9,240.7 410.2,240.7 411.5,235.9 413.4,231.7 415,234.9 415.9,243.5 416.9,246.4 418.4,244.5 419.8,242.6 421.1,242.6 422.6,238.8 424.2,235.9 425.5,236.4 426.9,239.3 428.2,229.3 429.7,232.6 431.3,236.4 432.6,233.2 434.5,233.5 435.9,231.2 437.8,229.3 439.3,232.6 441.2,236.4 442.7,232.6 444.7,230.7 446.6,227.8 447.9,232.6 449.2,233.5 450.8,229.7 452.3,230.7 454.2,231.6 456.1,229.3 458,231.6 459.4,229.3 460.7,233.2 461.9,237.7 463.2,235.4 465.1,234.5 467,231.6 468.9,230.7 470.3,231.2 471.8,230.1 473.3,232.6 474.7,230.7 476,228.8 477.5,226.8 478.5,224.9 479.9,222.4 481.2,221.7 482.7,224.9 484.3,221.1 485.6,220.2 486.9,221.1 488.5,219.2 490,217.3 491.3,215.4 492.7,216.3 494.6,212.5 496.1,224 497.7,221.1 499.6,220.2 500.9,218.2 501.9,220.2 503.4,214.4 504.7,212.5 505.7,222.1 506.6,228.8 507.6,230.7 508.5,226.8 509.5,221.1 511,229.7 512.4,239.3 513.3,229.7 514.3,224.9 515.6,225.9 516.8,235.4 518.1,234.5 519.4,220.2 521,224 522.5,231.6 523.8,237.4 525.2,241.2 526.3,237.4 527.7,234.5 529,233.5 530.5,224 531,224 532.3,221.1 533.4,224.9 534.8,220.2 536.1,218.2 537.3,223 538.6,236.4 539.9,230.7 541.1,233.5 542.4,231.6 543.8,236.4 544.9,239.3 546.3,225.9 547.6,223 548.7,222.1 550.1,224 551.4,220.2 552.6,219.2 553.9,221.1 555.2,222.1 556.8,224.9 558.3,226.8 559.6,229.7 561,231.2 562.5,226.8 564,223 565.4,219.2 566.7,217.3 567.9,220.2 569.2,225.9 570.5,219.2 571.7,226.8 573,220.2 574.4,217.3 575.9,218.2 577.4,226.8 578.8,226.8 579.7,223 580.7,227.8 581,226.8"/></svg>
<rect x="120.5" y="30.5" width="461" height="142" fill="none" stroke="#000" stroke-width="1"/>
<line x1="120.5" y1="172.5" x2="120.5" y2="180.5" stroke="#000" stroke-width="1"/>
<line x1="135.5" y1="172.5" x2="135.5" y2="176.5" stroke="#000" stroke-width="1"/>
<line x1="150.5" y1="172.5" x2="150.5" y2="176.5" stroke="#000" stroke-width="1"/>
<line x1="166.5" y1="172.5" x2="166.5" y2="176.5" stroke="#000" stroke-width="1"/>
<line x1="181.5" y1="172.5" x2="181.5" y2="176.5" stroke="#000" stroke-width="1"/>
<line x1="196.5" y1="172.5" x2="196.5" y2="176.5" stroke="#000" stroke-width="1"/>
<line x1="212.5" y1="172.5" x2="212.5" y2="176.5" stroke="#000" stroke-width="1"/>
<line x1="227.5" y1="172.5" x2="227.5" y2="176.5" stroke="#000" stroke-width="1"/>
<line x1="242.5" y1="172.5" x2="242.5" y2="176.5" stroke="#000" stroke-width="1"/>
<line x1="258.5" y1="172.5" x2="258.5" y2="176.5" stroke="#000" stroke-width="1"/>
<line x1="273.5" y1="172.5" x2="273.5" y2="180.5" stroke="#000" stroke-width="1"/>
<line x1="289.5" y1="172.5" x2="289.5" y2="176.5" stroke="#000" stroke-width="1"/>
<line x1="304.5" y1="172.5" x2="304.5" y2="176.5" stroke="#000" stroke-width="1"/>
<line x1="319.5" y1="172.5" x2="319.5" y2="176.5" stroke="#000" stroke-width="1"/>
<line x1="335.5" y1="172.5" x2="335.5" y2="176.5" stroke="#000" stroke-width="1"/>
<line x1="350.5" y1="172.5" x2="350.5" y2="176.5" stroke="#000" stroke-width="1"/>
<line x1="365.5" y1="172.5" x2="365.5" y2="176.5" stroke="#000" stroke-width="1"/>
<line x1="381.5" y1="172.5" x2="381.5" y2="176.5" stroke="#000" stroke-width="1"/>
<line x1="396.5" y1="172.5" x2="396.5" y2="176.5" stroke="#000" stroke-width="1"/>
<line x1="411.5" y1="172.5" x2="411.5" y2="176.5" stroke="#000" stroke-width="1"/>
<line x1="427.5" y1="172.5" x2="427.5" y2="180.5" stroke="#000" stroke-width="1"/>
<line x1="442.5" y1="172.5" x2="442.5" y2="176.5" stroke="#000" stroke-width="1"/>
<line x1="458.5" y1="172.5" x2="458.5" y2="176.5" stroke="#000" stroke-width="1"/>
<line x1="473.5" y1="172.5" x2="473.5" y2="176.5" stroke="#000" stroke-width="1"/>
<line x1="488.5" y1="172.5" x2="488.5" y2="176.5" stroke="#000" stroke-width="1"/>
<line x1="504.5" y1="172.5" x2="504.5" y2="176.5" stroke="#000" stroke-width="1"/>
<line x1="519.5" y1="172.5" x2="519.5" y2="176.5" stroke="#000" stroke-width="1"/>
<line x1="534.5" y1="172.5" x2="534.5" y2="176.5" stroke="#000" stroke-width="1"/>
<line x1="550.5" y1="172.5" x2="550.5" y2="176.5" stroke="#000" stroke-width="1"/>
<line x1="565.5" y1="172.5" x2="565.5" y2="176.5" stroke="#000" stroke-width="1"/>
<line x1="581.5" y1="172.5" x2="581.5" y2="180.5" stroke="#000" stroke-width="1"/>
<rect x="120.5" y="184.5" width="461" height="142" fill="none" stroke="#000" stroke-width="1"/>
<line x1="120.5" y1="326.5" x2="120.5" y2="334.5" stroke="#000" stroke-width="1"/>
<line x1="135.5" y1="326.5" x2="135.5" y2="330.5" stroke="#000" stroke-width="1"/>
<line x1="150.5" y1="326.5" x2="150.5" y2="330.5" stroke="#000" stroke-width="1"/>
<line x1="166.5" y1="326.5" x2="166.5" y2="330.5" stroke="#000" stroke-width="1"/>
<line x1="181.5" y1="326.5" x2="181.5" y2="330.5" stroke="#000" stroke-width="1"/>
<line x1="196.5" y1="326.5" x2="196.5" y2="330.5" stroke="#000" stroke-width="1"/>
<line x1="212.5" y1="326.5" x2="212.5" y2="330.5" stroke="#000" stroke-width="1"/>
<line x1="227.5" y1="326.5" x2="227.5" y2="330.5" stroke="#000" stroke-width="1"/>
<line x1="242.5" y1="326.5" x2="242.5" y2="330.5" stroke="#000" stroke-width="1"/>
<line x1="258.5" y1="326.5" x2="258.5" y2="330.5" stroke="#000" stroke-width="1"/>
<line x1="273.5" y1="326.5" x2="273.5" y2="334.5" stroke="#000" stroke-width="1"/>
<line x1="289.5" y1="326.5" x2="289.5" y2="330.5" stroke="#000" stroke-width="1"/>
<line x1="304.5" y1="326.5" x2="304.5" y2="330.5" stroke="#000" stroke-width="1"/>
<line x1="319.5" y1="326.5" x2="319.5" y2="330.5" stroke="#000" stroke-width="1"/>
<line x1="335.5" y1="326.5" x2="335.5" y2="330.5" stroke="#000" stroke-width="1"/>
<line x1="350.5" y1="326.5" x2="350.5" y2="330.5" stroke="#000" stroke-width="1"/>
<line x1="365.5" y1="326.5" x2="365.5" y2="330.5" stroke="#000" stroke-width="1"/>
<line x1="381.5" y1="326.5" x2="381.5" y2="330.5" stroke="#000" stroke-width="1"/>
<line x1="396.5" y1="326.5" x2="396.5" y2="330.5" stroke="#000" stroke-width="1"/>
<line x1="411.5" y1="326.5" x2="411.5" y2="330.5" stroke="#000" stroke-width="1"/>
<line x1="427.5" y1="326.5" x2="427.5" y2="334.5" stroke="#000" stroke-width="1"/>
<line x1="442.5" y1="326.5" x2="442.5" y2="330.5" stroke="#000" stroke-width="1"/>
<line x1="458.5" y1="326.5" x2="458.5" y2="330.5" stroke="#000" stroke-width="1"/>
<line x1="473.5" y1="326.5" x2="473.5" y2="330.5" stroke="#000" stroke-width="1"/>
<line x1="488.5" y1="326.5" x2="488.5" y2="330.5" stroke="#000" stroke-width="1"/>
<line x1="504.5" y1="326.5" x2="504.5" y2="330.5" stroke="#000" stroke-width="1"/>
<line x1="519.5" y1="326.5" x2="519.5" y2="330.5" stroke="#000" stroke-width="1"/>
<line x1="534.5" y1="326.5" x2="534.5" y2="330.5" stroke="#000" stroke-width="1"/>
<line x1="550.5" y1="326.5" x2="550.5" y2="330.5" stroke="#000" stroke-width="1"/>
<line x1="565.5" y1="326.5" x2="565.5" y2="330.5" stroke="#000" stroke-width="1"/>
<line x1="581.5" y1="326.5" x2="581.5" y2="334.5" stroke="#000" stroke-width="1"/>
<rect x="120.5" y="338.5" width="461" height="142" fill="none" stroke="#000" stroke-width="1"/>
<line x1="120.5" y1="480.5" x2="120.5" y2="488.5" stroke="#000" stroke-width="1"/>
<line x1="135.5" y1="480.5" x2="135.5" y2="484.5" stroke="#000" stroke-width="1"/>
<line x1="150.5" y1="480.5" x2="150.5" y2="484.5" stroke="#000" stroke-width="1"/>
<line x1="166.5" y1="480.5" x2="166.5" y2="484.5" stroke="#000" stroke-width="1"/>
<line x1="181.5" y1="480.5" x2="181.5" y2="484.5" stroke="#000" stroke-width="1"/>
<line x1="196.5" y1="480.5" x2="196.5" y2="484.5" stroke="#000" stroke-width="1"/>
<line x1="212.5" y1="480.5" x2="212.5" y2="484.5" stroke="#000" stroke-width="1"/>
<line x1="227.5" y1="480.5" x2="227.5" y2="484.5" stroke="#000" stroke-width="1"/>
<line x1="242.5" y1="480.5" x2="242.5" y2="484.5" stroke="#000" stroke-width="1"/>
<line x1="258.5" y1="480.5" x2="258.5" y2="484.5" stroke="#000" stroke-width="1"/>
<line x1="273.5" y1="480.5" x2="273.5" y2="488.5" stroke="#000" stroke-width="1"/>
<line x1="289.5" y1="480.5" x2="289.5" y2="484.5" stroke="#000" stroke-width="1"/>
<line x1="304.5" y1="480.5" x2="304.5" y2="484.5" stroke="#000" stroke-width="1"/>
<line x1="319.5" y1="480.5" x2="319.5" y2="484.5" stroke="#000" stroke-width="1"/>
<line x1="335.5" y1="480.5" x2="335.5" y2="484.5" stroke="#000" stroke-width="1"/>
<line x1="350.5" y1="480.5" x2="350.5" y2="484.5" stroke="#000" stroke-width="1"/>
<line x1="365.5" y1="480.5" x2="365.5" y2="484.5" stroke="#000" stroke-width="1"/>
<line x1="381.5" y1="480.5" x2="381.5" y2="484.5" stroke="#000" stroke-width="1"/>
<line x1="396.5" y1="480.5" x2="396.5" y2="484.5" stroke="#000" stroke-width="1"/>
<line x1="411.5" y1="480.5" x2="411.5" y2="484.5" stroke="#000" stroke-width="1"/>
<line x1="427.5" y1="480.5" x2="427.5" y2="488.5" stroke="#000" stroke-width="1"/>
<line x1="442.5" y1="480.5" x2="442.5" y2="484.5" stroke="#000" stroke-width="1"/>
<line x1="458.5" y1="480.5" x2="458.5" y2="484.5" stroke="#000" stroke-width="1"/>
<line x1="473.5" y1="480.5" x2="473.5" y2="484.5" stroke="#000" stroke-width="1"/>
<line x1="488.5" y1="480.5" x2="488.5" y2="484.5" stroke="#000" stroke-width="1"/>
<line x1="504.5" y1="480.5" x2="504.5" y2="484.5" stroke="#000" stroke-width="1"/>
<line x1="519.5" y1="480.5" x2="519.5" y2="484.5" stroke="#000" stroke-width="1"/>
<line x1="534.5" y1="480.5" x2="534.5" y2="484.5" stroke="#000" stroke-width="1"/>
<line x1="550.5" y1="480.5" x2="550.5" y2="484.5" stroke="#000" stroke-width="1"/>
<line x1="565.5" y1="480.5" x2="565.5" y2="484.5" stroke="#000" stroke-width="1"/>
<line x1="581.5" y1="480.5" x2="581.5" y2="488.5" stroke="#000" stroke-width="1"/>
<line x1="112" y1="165.5" x2="120.5" y2="165.5" stroke="#000" stroke-width="1"/>
<line x1="112" y1="134.5" x2="120.5" y2="134.5" stroke="#000" stroke-width="1"/>
<line x1="112" y1="103.5" x2="120.5" y2="103.5" stroke="#000" stroke-width="1"/>
<line x1="112" y1="72.5" x2="120.5" y2="72.5" stroke="#000" stroke-width="1"/>
<line x1="112" y1="41.5" x2="120.5" y2="41.5" stroke="#000" stroke-width="1"/>
<line x1="116" y1="149.5" x2="120.5" y2="149.5" stroke="#000" stroke-width="1"/>
<line x1="116" y1="118.5" x2="120.5" y2="118.5" stroke="#000" stroke-width="1"/>
<line x1="116" y1="87.5" x2="120.5" y2="87.5" stroke="#000" stroke-width="1"/>
<line x1="116" y1="56.5" x2="120.5" y2="56.5" stroke="#000" stroke-width="1"/>
<line x1="112" y1="217.5" x2="120.5" y2="217.5" stroke="#000" stroke-width="1"/>
<line x1="112" y1="252.5" x2="120.5" y2="252.5" stroke="#000" stroke-width="1"/>
<line x1="112" y1="287.5" x2="120.5" y2="287.5" stroke="#000" stroke-width="1"/>
<line x1="112" y1="322.5" x2="120.5" y2="322.5" stroke="#000" stroke-width="1"/>
<line x1="116" y1="189.5" x2="120.5" y2="189.5" stroke="#000" stroke-width="1"/>
<line x1="116" y1="196.5" x2="120.5" y2="196.5" stroke="#000" stroke-width="1"/>
<line x1="116" y1="203.5" x2="120.5" y2="203.5" stroke="#000" stroke-width="1"/>
<line x1="116" y1="210.5" x2="120.5" y2="210.5" stroke="#000" stroke-width="1"/>
<line x1="116" y1="224.5" x2="120.5" y2="224.5" stroke="#000" stroke-width="1"/>
<line x1="116" y1="231.5" x2="120.5" y2="231.5" stroke="#000" stroke-width="1"/>
<line x1="116" y1="238.5" x2="120.5" y2="238.5" stroke="#000" stroke-width="1"/>
<line x1="116" y1="245.5" x2="120.5" y2="245.5" stroke="#000" stroke-width="1"/>
<line x1="116" y1="259.5" x2="120.5" y2="259.5" stroke="#000" stroke-width="1"/>
<line x1="116" y1="266.5" x2="120.5" y2="266.5" stroke="#000" stroke-width="1"/>
<line x1="116" y1="273.5" x2="120.5" y2="273.5" stroke="#000" stroke-width="1"/>
<line x1="116" y1="280.5" x2="120.5" y2="280.5" stroke="#000" stroke-width="1"/>
<line x1="116" y1="294.5" x2="120.5" y2="294.5" stroke="#000" stroke-width="1"/>
<line x1="116" y1="301.5" x2="120.5" y2="301.5" stroke="#000" stroke-width="1"/>
<line x1="116" y1="308.5" x2="120.5" y2="308.5" stroke="#000" stroke-width="1"/>
<line x1="116" y1="315.5" x2="120.5" y2="315.5" stroke="#000" stroke-width="1"/>
<line x1="112" y1="344.5" x2="120.5" y2="344.5" stroke="#000" stroke-width="1"/>
<line x1="112" y1="362.5" x2="120.5" y2="362.5" stroke="#000" stroke-width="1"/>
<line x1="112" y1="381.5" x2="120.5" y2="381.5" stroke="#000" stroke-width="1"/>
<line x1="112" y1="399.5" x2="120.5" y2="399.5" stroke="#000" stroke-width="1"/>
<line x1="112" y1="418.5" x2="120.5" y2="418.5" stroke="#000" stroke-width="1"/>
<line x1="112" y1="436.5" x2="120.5" y2="436.5" stroke="#000" stroke-width="1"/>
<line x1="112" y1="455.5" x2="120.5" y2="455.5" stroke="#000" stroke-width="1"/>
<line x1="112" y1="473.5" x2="120.5" y2="473.5" stroke="#000" stroke-width="1"/>
<line x1="116" y1="471.5" x2="120.5" y2="471.5" stroke="#000" stroke-width="1"/>
<line x1="116" y1="469.5" x2="120.5" y2="469.5" stroke="#000" stroke-width="1"/>
<line x1="116" y1="467.5" x2="120.5" y2="467.5" stroke="#000" stroke-width="1"/>
<line x1="116" y1="465.5" x2="120.5" y2="465.5" stroke="#000" stroke-width="1"/>
<line x1="116" y1="464.5" x2="120.5" y2="464.5" stroke="#000" stroke-width="1"/>
<line x1="116" y1="462.5" x2="120.5" y2="462.5" stroke="#000" stroke-width="1"/>
<line x1="116" y1="460.5" x2="120.5" y2="460.5" stroke="#000" stroke-width="1"/>
<line x1="116" y1="458.5" x2="120.5" y2="458.5" stroke="#000" stroke-width="1"/>
<line x1="116" y1="456.5" x2="120.5" y2="456.5" stroke="#000" stroke-width="1"/>
<line x1="116" y1="453.5" x2="120.5" y2="453.5" stroke="#000" stroke-width="1"/>
<line x1="116" y1="451.5" x2="120.5" y2="451.5" stroke="#000" stroke-width="1"/>
<line x1="116" y1="449.5" x2="120.5" y2="449.5" stroke="#000" stroke-width="1"/>
<line x1="116" y1="447.5" x2="120.5" y2="447.5" stroke="#000" stroke-width="1"/>
<line x1="116" y1="445.5" x2="120.5" y2="445.5" stroke="#000" stroke-width="1"/>
<line x1="116" y1="443.5" x2="120.5" y2="443.5" stroke="#000" stroke-width="1"/>
<line x1="116" y1="441.5" x2="120.5" y2="441.5" stroke="#000" stroke-width="1"/>
<line x1="116" y1="439.5" x2="120.5" y2="439.5" stroke="#000" stroke-width="1"/>
<line x1="116" y1="437.5" x2="120.5" y2="437.5" stroke="#000" stroke-width="1"/>
<line x1="116" y1="434.5" x2="120.5" y2="434.5" stroke="#000" stroke-width="1"/>
<line x1="116" y1="432.5" x2="120.5" y2="432.5" stroke="#000" stroke-width="1"/>
<line x1="116" y1="430.5" x2="120.5" y2="430.5" stroke="#000" stroke-width="1"/>
<line x1="116" y1="428.5" x2="120.5" y2="428.5" stroke="#000" stroke-width="1"/>
<line x1="116" y1="427.5" x2="120.5" y2="427.5" stroke="#000" stroke-width="1"/>
<line x1="116" y1="425.5" x2="120.5" y2="425.5" stroke="#000" stroke-width="1"/>
<line x1="116" y1="423.5" x2="120.5" y2="423.5" stroke="#000" stroke-width="1"/>
<line x1="116" y1="421.5" x2="120.5" y2="421.5" stroke="#000" stroke-width="1"/>
<line x1="116" y1="419.5" x2="120.5" y2="419.5" stroke="#000" stroke-width="1"/>
<line x1="116" y1="416.5" x2="120.5" y2="416.5" stroke="#000" stroke-width="1"/>
<line x1="116" y1="414.5" x2="120.5" y2="414.5" stroke="#000" stroke-width="1"/>
<line x1="116" y1="412.5" x2="120.5" y2="412.5" stroke="#000" stroke-width="1"/>
<line x1="116" y1="410.5" x2="120.5" y2="410.5" stroke="#000" stroke-width="1"/>
<line x1="116" y1="408.5" x2="120.5" y2="408.5" stroke="#000" stroke-width="1"/>
<line x1="116" y1="406.5" x2="120.5" y2="406.5" stroke="#000" stroke-width="1"/>
<line x1="116" y1="404.5" x2="120.5" y2="404.5" stroke="#000" stroke-width="1"/>
<line x1="116" y1="402.5" x2="120.5" y2="402.5" stroke="#000" stroke-width="1"/>
<line x1="116" y1="400.5" x2="120.5" y2="400.5" stroke="#000" stroke-width="1"/>
<line x1="116" y1="397.5" x2="120.5" y2="397.5" stroke="#000" stroke-width="1"/>
<line x1="116" y1="395.5" x2="120.5" y2="395.5" stroke="#000" stroke-width="1"/>
<line x1="116" y1="393.5" x2="120.5" y2="393.5" stroke="#000" stroke-width="1"/>
<line x1="116" y1="391.5" x2="120.5" y2="391.5" stroke="#000" stroke-width="1"/>
<line x1="116" y1="390.5" x2="120.5" y2="390.5" stroke="#000" stroke-width="1"/>
<line x1="116" y1="388.5" x2="120.5" y2="388.5" stroke="#000" stroke-width="1"/>
<line x1="116" y1="386.5" x2="120.5" y2="386.5" stroke="#000" stroke-width="1"/>
<line x1="116" y1="384.5" x2="120.5" y2="384.5" stroke="#000" stroke-width="1"/>
<line x1="116" y1="382.5" x2="120.5" y2="382.5" stroke="#000" stroke-width="1"/>
<line x1="116" y1="379.5" x2="120.5" y2="379.5" stroke="#000" stroke-width="1"/>
<line x1="116" y1="377.5" x2="120.5" y2="377.5" stroke="#000" stroke-width="1"/>
<line x1="116" y1="375.5" x2="120.5" y2="375.5" stroke="#000" stroke-width="1"/>
<line x1="116" y1="373.5" x2="120.5" y2="373.5" stroke="#000" stroke-width="1"/>
<line x1="116" y1="371.5" x2="120.5" y2="371.5" stroke="#000" stroke-width="1"/>
<line x1="116" y1="369.5" x2="120.5" y2="369.5" stroke="#000" stroke-width="1"/>
<line x1="116" y1="367.5" x2="120.5" y2="367.5" stroke="#000" stroke-width="1"/>
<line x1="116" y1="365.5" x2="120.5" y2="365.5" stroke="#000" stroke-width="1"/>
<line x1="116" y1="363.5" x2="120.5" y2="363.5" stroke="#000" stroke-width="1"/>
<line x1="116" y1="360.5" x2="120.5" y2="360.5" stroke="#000" stroke-width="1"/>
<line x1="116" y1="358.5" x2="120.5" y2="358.5" stroke="#000" stroke-width="1"/>
<line x1="116" y1="356.5" x2="120.5" y2="356.5" stroke="#000" stroke-width="1"/>
<line x1="116" y1="354.5" x2="120.5" y2="354.5" stroke="#000" stroke-width="1"/>
<line x1="116" y1="353.5" x2="120.5" y2="353.5" stroke="#000" stroke-width="1"/>
<line x1="116" y1="351.5" x2="120.5" y2="351.5" stroke="#000" stroke-width="1"/>
<line x1="116" y1="349.5" x2="120.5" y2="349.5" stroke="#000" stroke-width="1"/>
<line x1="116" y1="347.5" x2="120.5" y2="347.5" stroke="#000" stroke-width="1"/>
<line x1="116" y1="345.5" x2="120.5" y2="345.5" stroke="#000" stroke-width="1"/>
<line x1="116" y1="342.5" x2="120.5" y2="342.5" stroke="#000" stroke-width="1"/>
<line x1="116" y1="340.5" x2="120.5" y2="340.5" stroke="#000" stroke-width="1"/>
<line x1="116" y1="338.5" x2="120.5" y2="338.5" stroke="#000" stroke-width="1"/>
<line x1="116" y1="474.5" x2="120.5" y2="474.5" stroke="#000" stroke-width="1"/>
<line x1="116" y1="476.5" x2="120.5" y2="476.5" stroke="#000" stroke-width="1"/>
<line x1="116" y1="478.5" x2="120.5" y2="478.5" stroke="#000" stroke-width="1"/>
<line x1="605.5" y1="338" x2="605.5" y2="480" stroke="#000" stroke-width="1"/>
<line x1="605" y1="476.5" x2="610" y2="476.5" stroke="#000" stroke-width="1"/>
<line x1="605" y1="474.5" x2="610" y2="474.5" stroke="#000" stroke-width="1"/>
<line x1="605" y1="472.5" x2="610" y2="472.5" stroke="#000" stroke-width="1"/>
<line x1="605" y1="470.5" x2="610" y2="470.5" stroke="#000" stroke-width="1"/>
<line x1="605" y1="468.5" x2="610" y2="468.5" stroke="#000" stroke-width="1"/>
<line x1="605" y1="467.5" x2="614" y2="467.5" stroke="#000" stroke-width="1"/>
<line x1="605" y1="457.5" x2="610" y2="457.5" stroke="#000" stroke-width="1"/>
<line x1="605" y1="451.5" x2="610" y2="451.5" stroke="#000" stroke-width="1"/>
<line x1="605" y1="447.5" x2="610" y2="447.5" stroke="#000" stroke-width="1"/>
<line x1="605" y1="444.5" x2="610" y2="444.5" stroke="#000" stroke-width="1"/>
<line x1="605" y1="442.5" x2="610" y2="442.5" stroke="#000" stroke-width="1"/>
<line x1="605" y1="440.5" x2="610" y2="440.5" stroke="#000" stroke-width="1"/>
<line x1="605" y1="438.5" x2="610" y2="438.5" stroke="#000" stroke-width="1"/>
<line x1="605" y1="436.5" x2="610" y2="436.5" stroke="#000" stroke-width="1"/>
<line x1="605" y1="435.5" x2="614" y2="435.5" stroke="#000" stroke-width="1"/>
<line x1="605" y1="425.5" x2="610" y2="425.5" stroke="#000" stroke-width="1"/>
<line x1="605" y1="419.5" x2="610" y2="419.5" stroke="#000" stroke-width="1"/>
<line x1="605" y1="415.5" x2="610" y2="415.5" stroke="#000" stroke-width="1"/>
<line x1="605" y1="412.5" x2="610" y2="412.5" stroke="#000" stroke-width="1"/>
<line x1="605" y1="410.5" x2="610" y2="410.5" stroke="#000" stroke-width="1"/>
<line x1="605" y1="407.5" x2="610" y2="407.5" stroke="#000" stroke-width="1"/>
<line x1="605" y1="406.5" x2="610" y2="406.5" stroke="#000" stroke-width="1"/>
<line x1="605" y1="404.5" x2="610" y2="404.5" stroke="#000" stroke-width="1"/>
<line x1="605" y1="402.5" x2="614" y2="402.5" stroke="#000" stroke-width="1"/>
<line x1="605" y1="393.5" x2="610" y2="393.5" stroke="#000" stroke-width="1"/>
<line x1="605" y1="387.5" x2="610" y2="387.5" stroke="#000" stroke-width="1"/>
<line x1="605" y1="383.5" x2="610" y2="383.5" stroke="#000" stroke-width="1"/>
<line x1="605" y1="380.5" x2="610" y2="380.5" stroke="#000" stroke-width="1"/>
<line x1="605" y1="377.5" x2="610" y2="377.5" stroke="#000" stroke-width="1"/>
<line x1="605" y1="375.5" x2="610" y2="375.5" stroke="#000" stroke-width="1"/>
<line x1="605" y1="373.5" x2="610" y2="373.5" stroke="#000" stroke-width="1"/>
<line x1="605" y1="372.5" x2="610" y2="372.5" stroke="#000" stroke-width="1"/>
<line x1="605" y1="370.5" x2="614" y2="370.5" stroke="#000" stroke-width="1"/>
<line x1="605" y1="361.5" x2="610" y2="361.5" stroke="#000" stroke-width="1"/>
<line x1="605" y1="355.5" x2="610" y2="355.5" stroke="#000" stroke-width="1"/>
<line x1="605" y1="351.5" x2="610" y2="351.5" stroke="#000" stroke-width="1"/>
<line x1="605" y1="348.5" x2="610" y2="348.5" stroke="#000" stroke-width="1"/>
<line x1="605" y1="345.5" x2="610" y2="345.5" stroke="#000" stroke-width="1"/>
<line x1="605" y1="343.5" x2="610" y2="343.5" stroke="#000" stroke-width="1"/>
<line x1="605" y1="341.5" x2="610" y2="341.5" stroke="#000" stroke-width="1"/>
<line x1="605" y1="340.5" x2="610" y2="340.5" stroke="#000" stroke-width="1"/>
<line x1="605" y1="338.5" x2="614" y2="338.5" stroke="#000" stroke-width="1"/>
<text x="108" y="169.8" text-anchor="end" font-size="12" textLength="7.63" lengthAdjust="spacingAndGlyphs">0</text>
<text x="108" y="138.78" text-anchor="end" font-size="12" textLength="15.26" lengthAdjust="spacingAndGlyphs">20</text>
<text x="108" y="107.76" text-anchor="end" font-size="12" textLength="15.26" lengthAdjust="spacingAndGlyphs">40</text>
<text x="108" y="76.74" text-anchor="end" font-size="12" textLength="15.26" lengthAdjust="spacingAndGlyphs">60</text>
<text x="108" y="45.72" text-anchor="end" font-size="12" textLength="15.26" lengthAdjust="spacingAndGlyphs">80</text>
<text x="108" y="221.8" text-anchor="end" font-size="12" textLength="7.63" lengthAdjust="spacingAndGlyphs">0</text>
<text x="108" y="256.8" text-anchor="end" font-size="12" textLength="19.59" lengthAdjust="spacingAndGlyphs">-50</text>
<text x="108" y="291.8" text-anchor="end" font-size="12" textLength="27.22" lengthAdjust="spacingAndGlyphs">-100</text>
<text x="108" y="326.8" text-anchor="end" font-size="12" textLength="27.22" lengthAdjust="spacingAndGlyphs">-150</text>
<text x="108" y="477.8" text-anchor="end" font-size="12" textLength="11.96" lengthAdjust="spacingAndGlyphs">-1</text>
<text x="108" y="459.4" text-anchor="end" font-size="12" textLength="7.63" lengthAdjust="spacingAndGlyphs">0</text>
<text x="108" y="441" text-anchor="end" font-size="12" textLength="7.63" lengthAdjust="spacingAndGlyphs">1</text>
<text x="108" y="422.6" text-anchor="end" font-size="12" textLength="7.63" lengthAdjust="spacingAndGlyphs">2</text>
<text x="108" y="404.2" text-anchor="end" font-size="12" textLength="7.63" lengthAdjust="spacingAndGlyphs">3</text>
<text x="108" y="385.8" text-anchor="end" font-size="12" textLength="7.63" lengthAdjust="spacingAndGlyphs">4</text>
<text x="108" y="367.4" text-anchor="end" font-size="12" textLength="7.63" lengthAdjust="spacingAndGlyphs">5</text>
<text x="108" y="349" text-anchor="end" font-size="12" textLength="7.63" lengthAdjust="spacingAndGlyphs">6</text>
<text x="119.5" y="504" text-anchor="middle" font-size="12" textLength="69.7" lengthAdjust="spacingAndGlyphs">2005-09-01</text>
<text x="273.17" y="504" text-anchor="middle" font-size="12" textLength="69.7" lengthAdjust="spacingAndGlyphs">2005-09-11</text>
<text x="426.83" y="504" text-anchor="middle" font-size="12" textLength="69.7" lengthAdjust="spacingAndGlyphs">2005-09-21</text>
<text x="580.5" y="504" text-anchor="middle" font-size="12" textLength="69.7" lengthAdjust="spacingAndGlyphs">2005-10-01</text>
<text x="617" y="474.7" text-anchor="start" font-size="12" textLength="15.6" lengthAdjust="spacingAndGlyphs">10</text>
<text x="633.4" y="468.8" text-anchor="start" font-size="12" textLength="11.96" lengthAdjust="spacingAndGlyphs">-1</text>
<text x="617" y="442.55" text-anchor="start" font-size="12" textLength="15.6" lengthAdjust="spacingAndGlyphs">10</text>
<text x="633.4" y="436.65" text-anchor="start" font-size="12" textLength="7.63" lengthAdjust="spacingAndGlyphs">0</text>
<text x="617" y="410.4" text-anchor="start" font-size="12" textLength="15.6" lengthAdjust="spacingAndGlyphs">10</text>
<text x="633.4" y="404.5" text-anchor="start" font-size="12" textLength="7.63" lengthAdjust="spacingAndGlyphs">1</text>
<text x="617" y="378.25" text-anchor="start" font-size="12" textLength="15.6" lengthAdjust="spacingAndGlyphs">10</text>
<text x="633.4" y="372.35" text-anchor="start" font-size="12" textLength="7.63" lengthAdjust="spacingAndGlyphs">2</text>
<text x="617" y="346.1" text-anchor="start" font-size="12" textLength="15.6" lengthAdjust="spacingAndGlyphs">10</text>
<text x="633.4" y="340.2" text-anchor="start" font-size="12" textLength="7.63" lengthAdjust="spacingAndGlyphs">3</text>
<text transform="translate(47,101.2) rotate(-90)" x="0" y="0" text-anchor="middle" font-size="12" textLength="15" lengthAdjust="spacingAndGlyphs">Kp</text>
<text transform="translate(59,103.6) rotate(-90)" x="0" y="0" text-anchor="middle" font-size="12" textLength="87" lengthAdjust="spacingAndGlyphs">(e.g. 3+ = 33,</text>
<text transform="translate(71.3,104.2) rotate(-90)" x="0" y="0" text-anchor="middle" font-size="12" textLength="48.5" lengthAdjust="spacingAndGlyphs">6- = 57,</text>
<text transform="translate(83,103.3) rotate(-90)" x="0" y="0" text-anchor="middle" font-size="12" textLength="79" lengthAdjust="spacingAndGlyphs">4 = 40, etc.)</text>
<text transform="translate(71.4,254.7) rotate(-90)" x="0" y="0" text-anchor="middle" font-size="12" textLength="24" lengthAdjust="spacingAndGlyphs">DST</text>
<text transform="translate(87.3,408.3) rotate(-90)" x="0" y="0" text-anchor="middle" font-size="12" textLength="70.5" lengthAdjust="spacingAndGlyphs">Proton Flux</text></svg>
</body></html>
